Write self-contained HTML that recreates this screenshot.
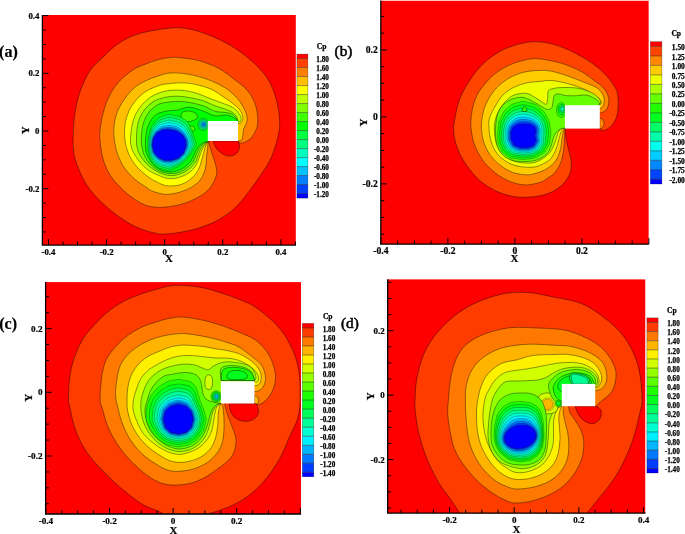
<!DOCTYPE html>
<html><head><meta charset="utf-8"><style>
html,body{margin:0;padding:0;background:#fff;width:685px;height:534px;overflow:hidden}
svg{display:block;will-change:transform}

</style></head><body>
<svg width="685" height="534" viewBox="0 0 685 534" shape-rendering="geometricPrecision">
<clipPath id="clipa"><rect x="42.4" y="14.9" width="253.5" height="230.2"/></clipPath>
<g clip-path="url(#clipa)">
<rect x="42.4" y="14.9" width="253.5" height="230.2" fill="#ff0000"/>
<path d="M73.3 130C73.5 123.58 74.08 118.88 74.9 113.5C75.72 108.12 76.7 102.95 78.2 97.7C79.7 92.45 81.65 86.87 83.9 82C86.15 77.13 88.15 73 91.7 68.5C95.25 64 101.07 58.93 105.2 55C109.33 51.07 112.37 47.9 116.5 44.9C120.63 41.9 125.13 39.15 130 37C134.87 34.85 139.87 33.38 145.7 32C151.53 30.62 159.28 29.4 165 28.7C170.72 28 174.38 27.35 180 27.8C185.62 28.25 191.83 29.3 198.7 31.4C205.57 33.5 214.07 36.85 221.2 40.4C228.33 43.95 235.12 48.02 241.5 52.7C247.88 57.38 254.63 63.25 259.5 68.5C264.37 73.75 267.7 78.2 270.7 84.2C273.7 90.2 276 97.7 277.5 104.5C279 111.3 279.9 118.58 279.7 125C279.5 131.42 277.98 137 276.3 143C274.62 149 272.4 155.38 269.6 161C266.8 166.62 263.07 171.45 259.5 176.7C255.93 181.95 252.33 187.25 248.2 192.5C244.07 197.75 239.57 203.7 234.7 208.2C229.83 212.7 224.62 216.32 219 219.5C213.38 222.68 207 225.25 201 227.3C195 229.35 189 230.67 183 231.8C177 232.93 170.08 233.98 165 234.1C159.92 234.22 157.58 233.82 152.5 232.5C147.42 231.18 140.5 229.12 134.5 226.2C128.5 223.28 122.13 219.12 116.5 215C110.87 210.88 105.58 206.38 100.7 201.5C95.82 196.62 90.95 191.33 87.2 185.7C83.45 180.07 80.45 173.32 78.2 167.7C75.95 162.08 74.52 158.28 73.7 152C72.88 145.72 73.1 136.42 73.3 130Z" fill="#ff4000" stroke="#000" stroke-opacity="0.75" stroke-width="0.55"/>
<path d="M223 131C223 131 208 141 208 141C208 141 208.83 142.92 209.5 145C210.17 147.08 211 150.25 212 153.5C213 156.75 214.75 160.92 215.5 164.5C216.25 168.08 217.42 171.08 216.5 175C215.58 178.92 212.97 184.33 210 188C207.03 191.67 203.2 194.38 198.7 197C194.2 199.62 188.62 202.02 183 203.7C177.38 205.38 170.83 206.72 165 207.1C159.17 207.48 153.08 207.32 148 206C142.92 204.68 139 202.2 134.5 199.2C130 196.2 125.13 192.12 121 188C116.87 183.88 112.7 179.38 109.7 174.5C106.7 169.62 104.62 164.45 103 158.7C101.38 152.95 100.45 145.12 100 140C99.55 134.88 99.8 132.42 100.3 128C100.8 123.58 101.8 118.17 103 113.5C104.2 108.83 105.63 104.32 107.5 100C109.37 95.68 111.58 91.35 114.2 87.6C116.82 83.85 119.82 80.62 123.2 77.5C126.58 74.38 130.75 71.15 134.5 68.9C138.25 66.65 141.95 65.48 145.7 64C149.45 62.52 152.95 61.08 157 60C161.05 58.92 166.17 57.88 170 57.5C173.83 57.12 175.22 57.18 180 57.7C184.78 58.22 192.2 58.8 198.7 60.6C205.2 62.4 213 65.32 219 68.5C225 71.68 230.53 76.62 234.7 79.7C238.87 82.78 241.32 84.45 244 87C246.68 89.55 248.88 92 250.8 95C252.72 98 254.38 101.67 255.5 105C256.62 108.33 257.17 111.67 257.5 115C257.83 118.33 257.85 122.32 257.5 125C257.15 127.68 256.35 129.05 255.4 131.1C254.45 133.15 253.43 135.5 251.8 137.3C250.17 139.1 247.48 140.95 245.6 141.9C243.72 142.85 241.77 143.15 240.5 143C239.23 142.85 238 141 238 141C238 141 223 131 223 131Z" fill="#ff8000" stroke="#000" stroke-opacity="0.75" stroke-width="0.55"/>
<path d="M223 131C223 131 208 141.5 208 141.5C208 141.5 207.93 145 207.7 147.5C207.47 150 206.97 153.13 206.6 156.5C206.23 159.87 206.43 163.95 205.5 167.7C204.57 171.45 203.25 175.8 201 179C198.75 182.2 195.75 184.65 192 186.9C188.25 189.15 183 191.27 178.5 192.5C174 193.73 169.42 194.55 165 194.3C160.58 194.05 155.22 192.23 152 191C148.78 189.77 148.62 188.9 145.7 186.9C142.78 184.9 138.07 182.2 134.5 179C130.93 175.8 127.12 171.83 124.3 167.7C121.48 163.57 119.28 159.07 117.6 154.2C115.92 149.33 114.77 143.37 114.2 138.5C113.63 133.63 113.63 129.55 114.2 125C114.77 120.45 115.72 115.75 117.6 111.2C119.48 106.65 122.68 101.63 125.5 97.7C128.32 93.77 131.13 90.42 134.5 87.6C137.87 84.78 141.95 82.67 145.7 80.8C149.45 78.93 152.95 77.7 157 76.4C161.05 75.1 164.92 73.38 170 73C175.08 72.62 181.17 73.02 187.5 74.1C193.83 75.18 201.83 77.27 208 79.5C214.17 81.73 220.33 85.08 224.5 87.5C228.67 89.92 230.5 91.75 233 94C235.5 96.25 237.53 98.33 239.5 101C241.47 103.67 243.52 107.05 244.8 110C246.08 112.95 247.07 116.22 247.2 118.7C247.33 121.18 246.2 123.18 245.6 124.9C245 126.62 244.03 127.45 243.6 129C243.17 130.55 243.27 132.48 243 134.2C242.73 135.92 242.6 138.18 242 139.3C241.4 140.42 240.07 140.7 239.4 140.9C238.73 141.1 238 140.5 238 140.5C238 140.5 223 131 223 131Z" fill="#ffbf00" stroke="#000" stroke-opacity="0.75" stroke-width="0.55"/>
<path d="M238 123C238 123 223 131 223 131C223 131 208 142 208 142C208 142 207.2 142.22 206.6 143.5C206 144.78 205.15 147.17 204.4 149.7C203.65 152.23 203.05 155.5 202.1 158.7C201.15 161.9 200.38 165.7 198.7 168.9C197.02 172.1 195 175.28 192 177.9C189 180.52 184.87 183.28 180.7 184.6C176.53 185.92 170.95 186.23 167 185.8C163.05 185.37 160.17 183.52 157 182C153.83 180.48 151.38 179.27 148 176.7C144.62 174.13 139.9 170.35 136.7 166.6C133.5 162.85 130.75 158.63 128.8 154.2C126.85 149.77 125.63 144.87 125 140C124.37 135.13 124.35 129.78 125 125C125.65 120.22 127.15 115.33 128.9 111.3C130.65 107.27 132.87 103.98 135.5 100.8C138.13 97.62 141.42 94.5 144.7 92.2C147.98 89.9 151.65 88.37 155.2 87C158.75 85.63 160.62 84.65 166 84C171.38 83.35 180.17 82.32 187.5 83.1C194.83 83.88 203.75 86.22 210 88.7C216.25 91.18 221.13 95.48 225 98C228.87 100.52 230.8 101.9 233.2 103.8C235.6 105.7 237.85 107.43 239.4 109.4C240.95 111.37 241.98 113.7 242.5 115.6C243.02 117.5 242.95 119.5 242.5 120.8C242.05 122.1 240.55 123.03 239.8 123.4C239.05 123.77 238 123 238 123Z" fill="#ffff00" stroke="#000" stroke-opacity="0.75" stroke-width="0.55"/>
<path d="M238 122C238 122 223 131 223 131C223 131 208 142 208 142C208 142 207 142.68 206.2 143.6C205.4 144.52 204.25 145.53 203.2 147.5C202.15 149.47 201.02 152.58 199.9 155.4C198.78 158.22 198.2 161.6 196.5 164.4C194.8 167.2 192.7 170 189.7 172.2C186.7 174.4 182.12 176.55 178.5 177.6C174.88 178.65 171.22 178.83 168 178.5C164.78 178.17 162.53 177.02 159.2 175.6C155.87 174.18 151.37 172.43 148 170C144.63 167.57 141.63 164.38 139 161C136.37 157.62 133.62 153.45 132.2 149.7C130.78 145.95 130.38 143.15 130.5 138.5C130.62 133.85 131.63 126.55 132.9 121.8C134.17 117.05 135.7 113.72 138.1 110C140.5 106.28 143.78 102.35 147.3 99.5C150.82 96.65 155.25 94.43 159.2 92.9C163.15 91.37 166.85 90.7 171 90.3C175.15 89.9 179.72 89.97 184.1 90.5C188.48 91.03 192.98 92.17 197.3 93.5C201.62 94.83 205.88 96.92 210 98.5C214.12 100.08 218.67 101.75 222 103C225.33 104.25 227.75 104.92 230 106C232.25 107.08 234.02 108.25 235.5 109.5C236.98 110.75 237.98 112.22 238.9 113.5C239.82 114.78 240.73 115.92 241 117.2C241.27 118.48 241 120.4 240.5 121.2C240 122 238 122 238 122Z" fill="#bfff00" stroke="#000" stroke-opacity="0.75" stroke-width="0.55"/>
<path d="M237.9 121.4C237.9 121.4 223 131 223 131C223 131 208 141.8 208 141.8C208 141.8 206.37 142.45 205.3 143.4C204.23 144.35 202.72 145.73 201.6 147.5C200.48 149.27 199.62 151.58 198.6 154C197.58 156.42 197.18 159.42 195.5 162C193.82 164.58 191.33 167.42 188.5 169.5C185.67 171.58 181.75 173.5 178.5 174.5C175.25 175.5 172.25 175.83 169 175.5C165.75 175.17 162.17 173.92 159 172.5C155.83 171.08 152.75 169.25 150 167C147.25 164.75 144.58 162 142.5 159C140.42 156 138.5 152.5 137.5 149C136.5 145.5 136.4 142.32 136.5 138C136.6 133.68 136.95 127.55 138.1 123.1C139.25 118.65 140.98 114.8 143.4 111.3C145.82 107.8 149.1 104.4 152.6 102.1C156.1 99.8 160.23 98.48 164.4 97.5C168.57 96.52 173.22 96.15 177.6 96.2C181.98 96.25 186.33 97 190.7 97.8C195.07 98.6 199.75 99.67 203.8 101C207.85 102.33 211.3 104.38 215 105.8C218.7 107.22 223.08 108.38 226 109.5C228.92 110.62 230.75 111.33 232.5 112.5C234.25 113.67 235.6 115.02 236.5 116.5C237.4 117.98 237.9 121.4 237.9 121.4Z" fill="#80ff00" stroke="#000" stroke-opacity="0.75" stroke-width="0.55"/>
<path d="M237.9 121.2C237.9 121.2 223 131 223 131C223 131 208 141.6 208 141.6C208 141.6 205.63 142.17 204.3 143.1C202.97 144.03 201.27 145.47 200 147.2C198.73 148.93 197.78 151.2 196.7 153.5C195.62 155.8 195.03 158.67 193.5 161C191.97 163.33 190 165.58 187.5 167.5C185 169.42 181.58 171.5 178.5 172.5C175.42 173.5 172.17 173.75 169 173.5C165.83 173.25 162.42 172.33 159.5 171C156.58 169.67 153.83 167.67 151.5 165.5C149.17 163.33 147.08 160.92 145.5 158C143.92 155.08 142.67 151.83 142 148C141.33 144.17 141.27 139.15 141.5 135C141.73 130.85 142.2 126.83 143.4 123.1C144.6 119.37 146.3 115.67 148.7 112.6C151.1 109.53 154.52 106.45 157.8 104.7C161.08 102.95 164.67 102.65 168.4 102.1C172.13 101.55 176.48 101.3 180.2 101.4C183.92 101.5 186.77 101.93 190.7 102.7C194.63 103.47 199.75 104.57 203.8 106C207.85 107.43 211.3 110.22 215 111.3C218.7 112.38 223.08 111.97 226 112.5C228.92 113.03 230.83 113.58 232.5 114.5C234.17 115.42 235.1 116.88 236 118C236.9 119.12 237.9 121.2 237.9 121.2Z" fill="#40ff00" stroke="#000" stroke-opacity="0.75" stroke-width="0.55"/>
<path d="M237.8 121C237.8 121 223 131 223 131C223 131 208 141.4 208 141.4C208 141.4 204.82 141.9 203.2 142.8C201.58 143.7 199.7 145.1 198.3 146.8C196.9 148.5 195.93 150.8 194.8 153C193.67 155.2 192.97 157.83 191.5 160C190.03 162.17 188.25 164.25 186 166C183.75 167.75 180.83 169.5 178 170.5C175.17 171.5 172 172.17 169 172C166 171.83 162.67 170.75 160 169.5C157.33 168.25 155 166.58 153 164.5C151 162.42 149.25 159.75 148 157C146.75 154.25 145.83 151.67 145.5 148C145.17 144.33 145.47 138.93 146 135C146.53 131.07 147.17 127.7 148.7 124.4C150.23 121.1 152.37 117.38 155.2 115.2C158.03 113.02 161.97 112.17 165.7 111.3C169.43 110.43 174.97 110.43 177.6 110C180.23 109.57 179.32 109.15 181.5 108.7C183.68 108.25 186.98 106.87 190.7 107.3C194.42 107.73 199.75 109.87 203.8 111.3C207.85 112.73 211.3 115.28 215 115.9C218.7 116.52 223 114.73 226 115C229 115.27 231.33 116.75 233 117.5C234.67 118.25 235.2 118.92 236 119.5C236.8 120.08 237.8 121 237.8 121Z" fill="#00ff00" stroke="#000" stroke-opacity="0.75" stroke-width="0.55"/>
<path d="M182 112.5C183.25 111.33 186.67 110.83 189 111C191.33 111.17 194.67 112.33 196 113.5C197.33 114.67 197.67 116.75 197 118C196.33 119.25 193.83 120.42 192 121C190.17 121.58 187.75 122 186 121.5C184.25 121 182.17 119.5 181.5 118C180.83 116.5 180.75 113.67 182 112.5Z" fill="#40ff00" stroke="#000" stroke-opacity="0.75" stroke-width="0.55"/>
<path d="M190 126C190.67 125.5 192.67 125.92 193.5 126.5C194.33 127.08 195.17 128.75 195 129.5C194.83 130.25 193.42 131 192.5 131C191.58 131 189.92 130.33 189.5 129.5C189.08 128.67 189.33 126.5 190 126Z" fill="#40ff00" stroke="#000" stroke-opacity="0.75" stroke-width="0.55"/>
<path d="M196.24 145C196.05 146.14 195.03 147.29 194.46 148.35C193.9 149.42 193.45 150.44 192.86 151.39C192.26 152.35 191.53 153.21 190.9 154.07C190.26 154.93 189.65 155.75 189.04 156.57C188.43 157.39 187.9 158.24 187.24 159C186.59 159.76 185.86 160.45 185.12 161.12C184.38 161.79 183.58 162.37 182.81 163C182.04 163.63 181.29 164.27 180.48 164.89C179.68 165.51 178.88 166.21 177.99 166.71C177.1 167.22 176.11 167.51 175.14 167.91C174.17 168.32 173.2 168.73 172.18 169.16C171.16 169.59 170.07 170.4 169 170.5C167.93 170.6 166.81 170.01 165.74 169.78C164.66 169.54 163.6 169.35 162.55 169.07C161.5 168.79 160.4 168.58 159.43 168.11C158.46 167.63 157.62 166.86 156.74 166.24C155.85 165.63 154.85 165.16 154.1 164.42C153.35 163.67 152.8 162.67 152.23 161.77C151.66 160.88 151.16 159.96 150.68 159.06C150.2 158.15 149.68 157.28 149.35 156.34C149.02 155.4 148.91 154.36 148.7 153.41C148.49 152.45 148.28 151.54 148.08 150.61C147.88 149.68 147.58 148.76 147.51 147.83C147.44 146.9 147.6 145.94 147.65 145C147.7 144.06 147.74 143.15 147.79 142.21C147.84 141.27 147.83 140.31 147.93 139.35C148.04 138.4 148.2 137.44 148.42 136.47C148.63 135.51 148.93 134.57 149.21 133.57C149.48 132.57 149.76 131.56 150.06 130.46C150.35 129.37 150.49 128.03 151 127C151.51 125.97 152.37 125.21 153.09 124.27C153.81 123.32 154.53 122.32 155.33 121.33C156.14 120.34 156.93 119.06 157.94 118.31C158.96 117.56 160.26 117.32 161.45 116.81C162.64 116.3 163.82 115.68 165.08 115.25C166.34 114.82 167.69 114.24 169 114.21C170.31 114.17 171.64 114.76 172.95 115.03C174.25 115.3 175.53 115.52 176.81 115.84C178.09 116.15 179.44 116.37 180.63 116.93C181.81 117.49 182.82 118.44 183.9 119.18C184.99 119.93 186.23 120.46 187.12 121.39C188 122.32 188.62 123.62 189.23 124.77C189.84 125.92 190.29 127.14 190.79 128.28C191.29 129.42 191.78 130.5 192.21 131.6C192.64 132.7 192.99 133.81 193.38 134.9C193.76 136 194.16 137.06 194.53 138.16C194.9 139.26 195.31 140.36 195.6 141.5C195.88 142.64 196.42 143.86 196.24 145Z" fill="#00ff40" stroke="#000" stroke-opacity="0.6" stroke-width="0.45"/>
<path d="M194.14 145C193.98 146.06 193.16 147.12 192.68 148.12C192.2 149.11 191.78 150.06 191.25 150.96C190.73 151.86 190.1 152.68 189.54 153.51C188.98 154.33 188.45 155.13 187.89 155.9C187.32 156.68 186.76 157.45 186.14 158.15C185.52 158.86 184.84 159.51 184.15 160.15C183.46 160.78 182.73 161.37 182 161.94C181.27 162.52 180.52 163.07 179.75 163.62C178.98 164.16 178.21 164.76 177.37 165.2C176.53 165.64 175.61 165.92 174.7 166.28C173.8 166.64 172.9 167.01 171.94 167.37C170.99 167.73 169.99 168.36 169 168.44C168.01 168.52 166.99 168.05 165.99 167.86C165 167.67 164 167.54 163.03 167.29C162.05 167.04 161.05 166.79 160.15 166.36C159.25 165.93 158.46 165.26 157.62 164.71C156.78 164.17 155.84 163.76 155.12 163.09C154.4 162.42 153.85 161.52 153.29 160.71C152.73 159.9 152.25 159.05 151.77 158.22C151.29 157.39 150.76 156.6 150.42 155.73C150.08 154.85 149.93 153.89 149.71 152.99C149.49 152.09 149.31 151.21 149.12 150.33C148.93 149.44 148.66 148.58 148.58 147.69C148.49 146.8 148.57 145.89 148.6 145C148.63 144.11 148.72 143.23 148.78 142.34C148.84 141.44 148.85 140.54 148.96 139.63C149.07 138.72 149.2 137.8 149.42 136.89C149.63 135.98 149.96 135.11 150.26 134.18C150.56 133.25 150.87 132.33 151.19 131.33C151.51 130.34 151.69 129.12 152.2 128.2C152.71 127.28 153.56 126.62 154.27 125.8C154.97 124.97 155.67 124.1 156.44 123.24C157.21 122.39 157.96 121.28 158.91 120.64C159.86 120.01 161.05 119.83 162.15 119.42C163.24 119 164.32 118.5 165.46 118.15C166.61 117.79 167.82 117.31 169 117.29C170.18 117.27 171.38 117.78 172.55 118.02C173.72 118.26 174.88 118.46 176.04 118.74C177.19 119.02 178.4 119.22 179.48 119.7C180.55 120.18 181.5 120.99 182.49 121.64C183.47 122.29 184.58 122.8 185.41 123.62C186.24 124.43 186.86 125.53 187.47 126.53C188.08 127.53 188.58 128.58 189.08 129.59C189.58 130.61 190.03 131.61 190.45 132.61C190.88 133.62 191.25 134.62 191.63 135.63C192.01 136.63 192.41 137.62 192.75 138.64C193.08 139.66 193.38 140.7 193.62 141.76C193.85 142.82 194.29 143.94 194.14 145Z" fill="#00ff80" stroke="#000" stroke-opacity="0.6" stroke-width="0.45"/>
<path d="M192.25 145C192.13 145.99 191.49 146.98 191.08 147.91C190.67 148.84 190.27 149.73 189.81 150.58C189.35 151.42 188.81 152.21 188.32 153C187.83 153.79 187.37 154.57 186.85 155.3C186.32 156.03 185.74 156.73 185.15 157.39C184.55 158.05 183.92 158.67 183.27 159.27C182.62 159.87 181.97 160.46 181.27 161C180.58 161.53 179.83 162 179.09 162.47C178.34 162.95 177.6 163.45 176.8 163.84C176.01 164.23 175.15 164.49 174.31 164.81C173.46 165.13 172.62 165.46 171.73 165.76C170.85 166.05 169.92 166.52 169 166.59C168.08 166.65 167.14 166.29 166.22 166.14C165.29 165.99 164.36 165.91 163.46 165.69C162.55 165.46 161.64 165.18 160.8 164.79C159.96 164.4 159.21 163.82 158.41 163.34C157.62 162.85 156.73 162.49 156.03 161.9C155.34 161.3 154.8 160.49 154.25 159.75C153.7 159.01 153.23 158.23 152.75 157.47C152.27 156.71 151.74 155.98 151.38 155.17C151.03 154.36 150.84 153.46 150.62 152.61C150.4 151.76 150.24 150.92 150.06 150.07C149.88 149.23 149.64 148.41 149.54 147.56C149.44 146.72 149.43 145.85 149.46 145C149.48 144.15 149.6 143.31 149.67 142.46C149.74 141.6 149.78 140.74 149.88 139.88C149.99 139.01 150.1 138.12 150.32 137.26C150.54 136.4 150.89 135.58 151.21 134.73C151.52 133.87 151.87 133.03 152.21 132.12C152.56 131.21 152.76 130.1 153.28 129.28C153.8 128.46 154.63 127.9 155.32 127.18C156.02 126.46 156.69 125.7 157.43 124.97C158.18 124.23 158.89 123.28 159.78 122.75C160.67 122.21 161.77 122.1 162.77 121.77C163.78 121.43 164.77 121.04 165.81 120.75C166.85 120.47 167.94 120.07 169 120.06C170.06 120.05 171.14 120.49 172.2 120.71C173.25 120.93 174.29 121.11 175.33 121.36C176.38 121.61 177.47 121.78 178.45 122.19C179.43 122.61 180.3 123.28 181.21 123.85C182.11 124.42 183.09 124.91 183.87 125.62C184.65 126.33 185.27 127.26 185.88 128.12C186.49 128.98 187.04 129.87 187.54 130.78C188.04 131.68 188.45 132.61 188.87 133.53C189.29 134.44 189.68 135.36 190.05 136.28C190.43 137.2 190.84 138.11 191.14 139.07C191.44 140.02 191.65 141.01 191.83 141.99C192.02 142.98 192.38 144.01 192.25 145Z" fill="#00ffbf" stroke="#000" stroke-opacity="0.6" stroke-width="0.45"/>
<path d="M190.47 145C190.37 145.92 189.9 146.84 189.57 147.71C189.23 148.58 188.84 149.41 188.44 150.21C188.04 151.01 187.6 151.77 187.17 152.52C186.74 153.28 186.36 154.05 185.86 154.74C185.37 155.43 184.78 156.05 184.21 156.67C183.64 157.29 183.05 157.87 182.44 158.44C181.84 159.01 181.25 159.61 180.59 160.1C179.92 160.59 179.18 160.98 178.46 161.39C177.74 161.8 177.02 162.21 176.27 162.55C175.51 162.89 174.73 163.14 173.94 163.42C173.15 163.7 172.35 164 171.53 164.23C170.71 164.47 169.85 164.79 169 164.83C168.15 164.88 167.29 164.62 166.43 164.51C165.58 164.4 164.7 164.38 163.86 164.18C163.03 163.98 162.2 163.67 161.42 163.31C160.63 162.95 159.92 162.46 159.16 162.04C158.41 161.61 157.57 161.3 156.9 160.77C156.23 160.24 155.69 159.51 155.16 158.84C154.62 158.17 154.16 157.46 153.68 156.76C153.2 156.06 152.65 155.4 152.29 154.65C151.92 153.9 151.7 153.06 151.48 152.26C151.25 151.46 151.12 150.64 150.95 149.84C150.78 149.03 150.56 148.25 150.45 147.44C150.33 146.64 150.25 145.81 150.26 145C150.27 144.19 150.43 143.38 150.51 142.57C150.59 141.75 150.65 140.94 150.76 140.11C150.87 139.29 150.94 138.42 151.17 137.61C151.39 136.8 151.77 136.04 152.1 135.24C152.44 134.45 152.81 133.68 153.18 132.86C153.54 132.03 153.78 131.03 154.3 130.3C154.82 129.57 155.64 129.1 156.32 128.48C157 127.86 157.66 127.22 158.37 126.59C159.09 125.97 159.77 125.16 160.6 124.73C161.44 124.3 162.45 124.24 163.37 123.98C164.29 123.73 165.19 123.43 166.13 123.21C167.07 123 168.04 122.67 169 122.68C169.96 122.68 170.92 123.06 171.86 123.25C172.81 123.45 173.74 123.62 174.67 123.83C175.61 124.05 176.58 124.19 177.47 124.55C178.36 124.9 179.18 125.45 180 125.94C180.83 126.44 181.69 126.89 182.42 127.51C183.15 128.12 183.78 128.88 184.39 129.61C185 130.35 185.58 131.1 186.08 131.89C186.58 132.69 186.96 133.56 187.38 134.39C187.79 135.22 188.19 136.05 188.57 136.89C188.94 137.74 189.36 138.59 189.63 139.47C189.89 140.36 190.01 141.29 190.15 142.22C190.29 143.14 190.57 144.08 190.47 145Z" fill="#00ffff" stroke="#000" stroke-opacity="0.6" stroke-width="0.45"/>
<path d="M188.9 145C188.83 145.85 188.51 146.72 188.23 147.53C187.95 148.35 187.58 149.12 187.24 149.89C186.89 150.65 186.52 151.38 186.15 152.1C185.78 152.83 185.46 153.58 185 154.24C184.54 154.89 183.93 155.46 183.38 156.04C182.84 156.62 182.28 157.17 181.71 157.71C181.14 158.26 180.61 158.86 179.98 159.31C179.35 159.77 178.61 160.09 177.91 160.44C177.22 160.79 176.52 161.12 175.8 161.41C175.08 161.71 174.35 161.95 173.61 162.2C172.87 162.44 172.12 162.71 171.36 162.89C170.59 163.07 169.79 163.26 169 163.29C168.21 163.32 167.42 163.15 166.62 163.07C165.82 163 165 163.02 164.22 162.84C163.44 162.66 162.69 162.33 161.96 162C161.23 161.68 160.54 161.26 159.82 160.89C159.11 160.52 158.31 160.25 157.66 159.78C157.02 159.3 156.48 158.65 155.96 158.04C155.43 157.44 154.98 156.77 154.5 156.13C154.02 155.49 153.46 154.88 153.09 154.19C152.71 153.49 152.46 152.7 152.23 151.94C152.01 151.18 151.9 150.39 151.73 149.63C151.57 148.86 151.38 148.11 151.25 147.34C151.12 146.57 150.97 145.78 150.97 145C150.98 144.22 151.16 143.44 151.25 142.66C151.34 141.88 151.42 141.11 151.53 140.32C151.64 139.53 151.69 138.69 151.91 137.92C152.14 137.15 152.54 136.44 152.89 135.7C153.24 134.96 153.64 134.26 154.03 133.51C154.41 132.76 154.67 131.85 155.2 131.2C155.73 130.55 156.54 130.16 157.2 129.63C157.87 129.1 158.51 128.55 159.2 128.03C159.89 127.5 160.55 126.83 161.33 126.48C162.11 126.13 163.04 126.12 163.89 125.94C164.74 125.76 165.57 125.54 166.42 125.38C167.27 125.23 168.14 124.97 169 124.99C169.86 125.01 170.72 125.32 171.57 125.5C172.42 125.67 173.25 125.83 174.09 126.01C174.93 126.2 175.8 126.33 176.61 126.62C177.42 126.92 178.18 127.36 178.94 127.79C179.69 128.21 180.46 128.65 181.14 129.17C181.83 129.7 182.46 130.32 183.06 130.94C183.67 131.55 184.3 132.18 184.8 132.88C185.3 133.58 185.65 134.39 186.06 135.15C186.47 135.91 186.89 136.66 187.26 137.44C187.63 138.22 188.06 139 188.29 139.83C188.52 140.66 188.56 141.55 188.66 142.41C188.76 143.27 188.97 144.15 188.9 145Z" fill="#00bfff" stroke="#000" stroke-opacity="0.6" stroke-width="0.45"/>
<path d="M187.54 145C187.49 145.8 187.3 146.61 187.07 147.38C186.85 148.15 186.5 148.88 186.19 149.61C185.89 150.33 185.59 151.04 185.27 151.74C184.94 152.44 184.68 153.18 184.25 153.8C183.81 154.43 183.2 154.94 182.67 155.49C182.14 156.03 181.61 156.55 181.08 157.08C180.54 157.6 180.06 158.2 179.46 158.63C178.85 159.05 178.11 159.31 177.44 159.61C176.76 159.91 176.08 160.18 175.39 160.43C174.71 160.68 174.02 160.92 173.32 161.13C172.62 161.35 171.92 161.59 171.2 161.72C170.48 161.86 169.74 161.93 169 161.95C168.26 161.97 167.53 161.87 166.78 161.83C166.04 161.78 165.26 161.84 164.53 161.68C163.8 161.52 163.12 161.17 162.43 160.87C161.74 160.57 161.08 160.22 160.4 159.9C159.71 159.57 158.95 159.34 158.32 158.91C157.7 158.49 157.17 157.91 156.65 157.35C156.13 156.8 155.68 156.18 155.21 155.58C154.73 154.99 154.17 154.44 153.78 153.79C153.39 153.14 153.12 152.4 152.89 151.67C152.66 150.95 152.57 150.18 152.41 149.45C152.25 148.71 152.08 147.99 151.94 147.25C151.81 146.5 151.6 145.75 151.59 145C151.58 144.25 151.79 143.5 151.9 142.75C152 142 152.09 141.26 152.2 140.5C152.31 139.74 152.33 138.93 152.56 138.19C152.79 137.46 153.21 136.78 153.58 136.1C153.94 135.41 154.36 134.76 154.76 134.08C155.16 133.39 155.45 132.56 155.98 131.98C156.51 131.4 157.31 131.08 157.97 130.62C158.63 130.17 159.25 129.71 159.92 129.27C160.58 128.83 161.22 128.27 161.96 128C162.7 127.73 163.56 127.76 164.35 127.63C165.13 127.51 165.89 127.37 166.67 127.27C167.44 127.16 168.23 126.96 169 126.99C169.77 127.02 170.55 127.29 171.31 127.44C172.08 127.59 172.82 127.74 173.58 127.9C174.34 128.07 175.13 128.17 175.87 128.42C176.61 128.67 177.32 129.02 178.02 129.38C178.71 129.75 179.39 130.17 180.04 130.62C180.69 131.07 181.31 131.56 181.92 132.08C182.53 132.6 183.18 133.11 183.68 133.73C184.18 134.35 184.51 135.11 184.92 135.81C185.32 136.51 185.75 137.19 186.12 137.91C186.49 138.63 186.92 139.36 187.13 140.14C187.34 140.92 187.3 141.77 187.37 142.58C187.44 143.39 187.59 144.2 187.54 145Z" fill="#0080ff" stroke="#000" stroke-opacity="0.6" stroke-width="0.45"/>
<path d="M186.49 145C186.45 145.76 186.37 146.53 186.18 147.26C186 147.99 185.66 148.69 185.39 149.39C185.13 150.09 184.88 150.78 184.59 151.46C184.3 152.14 184.08 152.87 183.67 153.47C183.26 154.07 182.63 154.54 182.12 155.06C181.6 155.59 181.1 156.09 180.59 156.59C180.08 157.1 179.64 157.7 179.05 158.1C178.46 158.5 177.73 158.71 177.07 158.98C176.41 159.24 175.74 159.45 175.08 159.67C174.42 159.9 173.77 160.12 173.1 160.32C172.44 160.51 171.77 160.73 171.08 160.83C170.4 160.93 169.7 160.91 169 160.92C168.3 160.93 167.62 160.89 166.91 160.87C166.21 160.85 165.45 160.94 164.77 160.8C164.08 160.65 163.44 160.27 162.79 160C162.13 159.72 161.5 159.43 160.84 159.13C160.18 158.84 159.44 158.64 158.83 158.25C158.22 157.86 157.69 157.33 157.18 156.82C156.67 156.31 156.23 155.72 155.75 155.17C155.27 154.61 154.71 154.1 154.31 153.48C153.92 152.86 153.62 152.16 153.39 151.46C153.16 150.77 153.08 150.02 152.93 149.31C152.78 148.59 152.62 147.89 152.48 147.17C152.34 146.46 152.08 145.73 152.07 145C152.05 144.27 152.28 143.54 152.39 142.81C152.5 142.09 152.6 141.37 152.71 140.64C152.82 139.9 152.83 139.11 153.06 138.4C153.3 137.69 153.73 137.05 154.1 136.4C154.48 135.75 154.92 135.15 155.33 134.51C155.74 133.88 156.04 133.1 156.58 132.58C157.12 132.06 157.91 131.78 158.56 131.39C159.21 131 159.82 130.6 160.47 130.23C161.12 129.86 161.74 129.38 162.44 129.17C163.15 128.95 163.96 129.01 164.7 128.94C165.43 128.86 166.14 128.78 166.86 128.71C167.57 128.65 168.29 128.49 169 128.53C169.71 128.56 170.42 128.8 171.12 128.93C171.81 129.07 172.5 129.21 173.19 129.36C173.89 129.5 174.61 129.6 175.29 129.81C175.98 130.02 176.66 130.29 177.31 130.61C177.95 130.93 178.56 131.34 179.18 131.73C179.8 132.12 180.43 132.52 181.04 132.96C181.65 133.41 182.33 133.83 182.83 134.39C183.33 134.95 183.63 135.67 184.04 136.32C184.44 136.96 184.88 137.59 185.25 138.27C185.61 138.95 186.05 139.64 186.24 140.38C186.43 141.12 186.34 141.94 186.38 142.71C186.42 143.48 186.52 144.24 186.49 145Z" fill="#0040ff" stroke="#000" stroke-opacity="0.6" stroke-width="0.45"/>
<path d="M185.75 145C185.73 145.73 185.71 146.47 185.56 147.18C185.41 147.89 185.07 148.56 184.83 149.24C184.59 149.92 184.38 150.6 184.12 151.26C183.85 151.93 183.66 152.65 183.26 153.24C182.87 153.82 182.23 154.27 181.73 154.77C181.23 155.27 180.74 155.76 180.25 156.25C179.76 156.74 179.34 157.35 178.77 157.73C178.2 158.11 177.46 158.3 176.81 158.53C176.16 158.77 175.5 158.94 174.86 159.14C174.22 159.35 173.59 159.57 172.95 159.74C172.31 159.92 171.66 160.12 171 160.2C170.34 160.28 169.67 160.2 169 160.2C168.33 160.2 167.68 160.2 167 160.2C166.32 160.2 165.59 160.31 164.93 160.17C164.27 160.04 163.67 159.65 163.04 159.39C162.41 159.12 161.79 158.87 161.15 158.6C160.51 158.33 159.79 158.14 159.19 157.79C158.59 157.43 158.06 156.93 157.55 156.45C157.04 155.96 156.61 155.4 156.13 154.87C155.66 154.34 155.08 153.86 154.69 153.26C154.29 152.67 153.98 151.99 153.75 151.32C153.52 150.64 153.45 149.91 153.3 149.21C153.15 148.51 153 147.83 152.85 147.13C152.7 146.42 152.42 145.71 152.4 145C152.38 144.29 152.62 143.57 152.74 142.86C152.85 142.15 152.96 141.45 153.07 140.73C153.18 140.01 153.18 139.23 153.41 138.54C153.65 137.86 154.09 137.23 154.47 136.61C154.86 135.99 155.31 135.42 155.73 134.82C156.15 134.21 156.46 133.48 157 133C157.54 132.52 158.33 132.28 158.97 131.93C159.61 131.58 160.22 131.22 160.86 130.9C161.49 130.57 162.1 130.16 162.78 129.98C163.46 129.81 164.24 129.89 164.94 129.85C165.64 129.81 166.31 129.77 166.99 129.73C167.67 129.69 168.34 129.56 169 129.61C169.66 129.65 170.32 129.85 170.98 129.98C171.63 130.11 172.27 130.24 172.92 130.37C173.57 130.51 174.24 130.59 174.89 130.78C175.54 130.96 176.19 131.18 176.81 131.47C177.43 131.76 177.98 132.16 178.59 132.51C179.19 132.86 179.81 133.19 180.42 133.58C181.03 133.97 181.73 134.33 182.23 134.85C182.73 135.37 183.02 136.06 183.42 136.67C183.82 137.29 184.27 137.88 184.63 138.52C185 139.17 185.44 139.83 185.62 140.55C185.79 141.26 185.66 142.06 185.69 142.8C185.71 143.55 185.77 144.27 185.75 145Z" fill="#0000ff" stroke="#000" stroke-opacity="0.6" stroke-width="0.45"/>
<ellipse cx="203.2" cy="124.5" rx="5.6" ry="6.2" fill="#00ff40" stroke="#000" stroke-opacity="0.6" stroke-width="0.45"/>
<ellipse cx="203.4" cy="124.5" rx="4.4" ry="4.8" fill="#00ff80" stroke="#000" stroke-opacity="0.6" stroke-width="0.45"/>
<ellipse cx="203.5" cy="124.5" rx="3.4" ry="3.6" fill="#00ffbf" stroke="#000" stroke-opacity="0.6" stroke-width="0.45"/>
<ellipse cx="203.6" cy="124.5" rx="2.4" ry="2.6" fill="#00bfff" stroke="#000" stroke-opacity="0.6" stroke-width="0.45"/>
<ellipse cx="203.6" cy="124.5" rx="1.4" ry="1.5" fill="#0080ff" stroke="#000" stroke-opacity="0.6" stroke-width="0.45"/>
<path d="M213 141C213 141 214.25 145.08 215.5 147C216.75 148.92 218.58 151.03 220.5 152.5C222.42 153.97 224.92 155.3 227 155.8C229.08 156.3 231.25 156.05 233 155.5C234.75 154.95 236.42 153.83 237.5 152.5C238.58 151.17 239.25 149.08 239.5 147.5C239.75 145.92 239.25 144.08 239 143C238.75 141.92 238 141 238 141C238 141 213 141 213 141Z" fill="#ff0000" stroke="#000" stroke-opacity="0.75" stroke-width="0.55"/>
<rect x="207.8" y="121" width="30.2" height="20" fill="#fff"/>
</g>
<path d="M42.4 14.9V245.1H295.9" fill="none" stroke="#000" stroke-width="1.3"/>
<path d="M48.5 245.1V239.1M63.02 245.1V241.6M42.4 231.98H45.9M77.55 245.1V241.6M42.4 217.55H45.9M92.07 245.1V241.6M42.4 203.12H45.9M106.6 245.1V239.1M42.4 188.7H48.4M121.12 245.1V241.6M42.4 174.28H45.9M135.65 245.1V241.6M42.4 159.85H45.9M150.17 245.1V241.6M42.4 145.43H45.9M164.7 245.1V239.1M42.4 131H48.4M179.22 245.1V241.6M42.4 116.58H45.9M193.75 245.1V241.6M42.4 102.15H45.9M208.28 245.1V241.6M42.4 87.72H45.9M222.8 245.1V239.1M42.4 73.3H48.4M237.32 245.1V241.6M42.4 58.88H45.9M251.85 245.1V241.6M42.4 44.45H45.9M266.38 245.1V241.6M42.4 30.02H45.9M280.9 245.1V239.1M42.4 15.6H48.4M295.42 245.1V241.6" fill="none" stroke="#000" stroke-width="1"/>
<g font-family='"Liberation Serif", serif' font-weight="bold" fill="#000" stroke="#000" stroke-width="0.2">
<text x="48.5" y="254.6" text-anchor="middle" font-size="8.8">-0.4</text>
<text x="106.6" y="254.6" text-anchor="middle" font-size="8.8">-0.2</text>
<text x="39.4" y="191.7" text-anchor="end" font-size="8.8">-0.2</text>
<text x="164.7" y="254.6" text-anchor="middle" font-size="8.8">0</text>
<text x="39.4" y="134" text-anchor="end" font-size="8.8">0</text>
<text x="222.8" y="254.6" text-anchor="middle" font-size="8.8">0.2</text>
<text x="39.4" y="76.3" text-anchor="end" font-size="8.8">0.2</text>
<text x="280.9" y="254.6" text-anchor="middle" font-size="8.8">0.4</text>
<text x="39.4" y="18.6" text-anchor="end" font-size="8.8">0.4</text>
<text x="169" y="261.7" text-anchor="middle" font-size="11">X</text>
<text transform="translate(28.8 130.2) rotate(-90)" text-anchor="middle" font-size="11">Y</text>
<text x="-0.9" y="56.8" font-size="16" font-weight="bold">(a)</text>
</g>
<rect x="296.9" y="54.1" width="11" height="4.5" fill="#ff0000"/>
<rect x="296.9" y="58.6" width="11" height="9" fill="#ff4000"/>
<rect x="296.9" y="67.6" width="11" height="9" fill="#ff8000"/>
<rect x="296.9" y="76.6" width="11" height="9" fill="#ffbf00"/>
<rect x="296.9" y="85.6" width="11" height="9" fill="#ffff00"/>
<rect x="296.9" y="94.6" width="11" height="9" fill="#bfff00"/>
<rect x="296.9" y="103.6" width="11" height="9" fill="#80ff00"/>
<rect x="296.9" y="112.6" width="11" height="9" fill="#40ff00"/>
<rect x="296.9" y="121.6" width="11" height="9" fill="#00ff00"/>
<rect x="296.9" y="130.6" width="11" height="9" fill="#00ff40"/>
<rect x="296.9" y="139.6" width="11" height="9" fill="#00ff80"/>
<rect x="296.9" y="148.6" width="11" height="9" fill="#00ffbf"/>
<rect x="296.9" y="157.6" width="11" height="9" fill="#00ffff"/>
<rect x="296.9" y="166.6" width="11" height="9" fill="#00bfff"/>
<rect x="296.9" y="175.6" width="11" height="9" fill="#0080ff"/>
<rect x="296.9" y="184.6" width="11" height="9" fill="#0040ff"/>
<rect x="296.9" y="193.6" width="11" height="4.5" fill="#0000ff"/>
<path d="M296.9 58.6H307.9M296.9 67.6H307.9M296.9 76.6H307.9M296.9 85.6H307.9M296.9 94.6H307.9M296.9 103.6H307.9M296.9 112.6H307.9M296.9 121.6H307.9M296.9 130.6H307.9M296.9 139.6H307.9M296.9 148.6H307.9M296.9 157.6H307.9M296.9 166.6H307.9M296.9 175.6H307.9M296.9 184.6H307.9M296.9 193.6H307.9" stroke="#000" stroke-opacity="0.7" stroke-width="0.6"/>
<rect x="296.9" y="54.1" width="11" height="144" fill="none" stroke="#000" stroke-opacity="0.5" stroke-width="0.5"/>
<g font-family='"Liberation Serif", serif' font-weight="bold" fill="#000" stroke="#000" stroke-width="0.25" font-size="7.2">
<text x="328.9" y="62.2" text-anchor="end">1.80</text>
<text x="328.9" y="71.2" text-anchor="end">1.60</text>
<text x="328.9" y="80.2" text-anchor="end">1.40</text>
<text x="328.9" y="89.2" text-anchor="end">1.20</text>
<text x="328.9" y="98.2" text-anchor="end">1.00</text>
<text x="328.9" y="107.2" text-anchor="end">0.80</text>
<text x="328.9" y="116.2" text-anchor="end">0.60</text>
<text x="328.9" y="125.2" text-anchor="end">0.40</text>
<text x="328.9" y="134.2" text-anchor="end">0.20</text>
<text x="328.9" y="143.2" text-anchor="end">0.00</text>
<text x="328.9" y="152.2" text-anchor="end">-0.20</text>
<text x="328.9" y="161.2" text-anchor="end">-0.40</text>
<text x="328.9" y="170.2" text-anchor="end">-0.60</text>
<text x="328.9" y="179.2" text-anchor="end">-0.80</text>
<text x="328.9" y="188.2" text-anchor="end">-1.00</text>
<text x="328.9" y="197.2" text-anchor="end">-1.20</text>
<text x="316.7" y="49.3" font-size="7.6">Cp</text>
</g>
<clipPath id="clipb"><rect x="380.8" y="0.5" width="268" height="243.7"/></clipPath>
<g clip-path="url(#clipb)">
<rect x="380.8" y="0.5" width="268" height="243.7" fill="#ff0000"/>
<path d="M582 117C582 117 599.9 128.5 599.9 128.5C599.9 128.5 600.2 130.08 601.2 130.3C602.2 130.52 604.18 130.58 605.9 129.8C607.62 129.02 609.78 127.55 611.5 125.6C613.22 123.65 615.1 120.92 616.2 118.1C617.3 115.28 617.78 111.82 618.1 108.7C618.42 105.58 618.37 102.47 618.1 99.4C617.83 96.33 618 93.73 616.5 90.3C615 86.87 612.3 82.67 609.1 78.8C605.9 74.93 601.78 70.73 597.3 67.1C592.82 63.47 587.53 60.1 582.2 57C576.87 53.9 570.92 50.82 565.3 48.5C559.68 46.18 553.55 44.22 548.5 43.1C543.45 41.98 538.78 41.88 535 41.8C531.22 41.72 529.57 41.9 525.8 42.6C522.03 43.3 516.88 44.45 512.4 46C507.92 47.55 503.12 49.52 498.9 51.9C494.68 54.28 490.75 57.22 487.1 60.3C483.45 63.38 480.08 66.75 477 70.4C473.92 74.05 471.13 78.27 468.6 82.2C466.07 86.13 463.63 90.07 461.8 94C459.97 97.93 458.73 101.8 457.6 105.8C456.47 109.8 455.67 114.47 455 118C454.33 121.53 453.72 123.85 453.6 127C453.48 130.15 453.63 133.28 454.3 136.9C454.97 140.52 456.07 144.77 457.6 148.7C459.13 152.63 461.1 156.57 463.5 160.5C465.9 164.43 468.9 168.65 472 172.3C475.1 175.95 478.18 179.32 482.1 182.4C486.02 185.48 491.02 188.62 495.5 190.8C499.98 192.98 504.5 194.42 509 195.5C513.5 196.58 517.33 197.25 522.5 197.3C527.67 197.35 534.97 196.77 540 195.8C545.03 194.83 548.95 193.37 552.7 191.5C556.45 189.63 559.72 187.4 562.5 184.6C565.28 181.8 567.92 177.98 569.4 174.7C570.88 171.42 571.23 167.85 571.4 164.9C571.57 161.95 571.05 160.28 570.4 157C569.75 153.72 568.32 148.8 567.5 145.2C566.68 141.6 565.93 138.18 565.5 135.4C565.07 132.62 564.9 128.5 564.9 128.5C564.9 128.5 582 117 582 117Z" fill="#ff4400" stroke="#000" stroke-opacity="0.75" stroke-width="0.55"/>
<path d="M582 117C582 117 599.8 113 599.8 113C599.8 113 601.47 112.8 602.5 112.3C603.53 111.8 605.03 111.13 606 110C606.97 108.87 607.83 107.33 608.3 105.5C608.77 103.67 609.1 101.25 608.8 99C608.5 96.75 607.8 94.25 606.5 92C605.2 89.75 603.08 87.42 601 85.5C598.92 83.58 597.13 82.73 594 80.5C590.87 78.27 586.98 74.77 582.2 72.1C577.42 69.43 570.92 66.47 565.3 64.5C559.68 62.53 553.55 61.28 548.5 60.3C543.45 59.32 539.05 58.6 535 58.6C530.95 58.6 528.25 59.32 524.2 60.3C520.15 61.28 515.2 62.53 510.7 64.5C506.2 66.47 501.13 69.28 497.2 72.1C493.27 74.92 490.18 78.03 487.1 81.4C484.02 84.77 480.95 88.52 478.7 92.3C476.45 96.08 474.87 99.82 473.6 104.1C472.33 108.38 471.52 113.93 471.1 118C470.68 122.07 470.68 124.5 471.1 128.5C471.52 132.5 472.33 137.8 473.6 142C474.87 146.2 476.45 149.78 478.7 153.7C480.95 157.62 483.73 161.85 487.1 165.5C490.47 169.15 494.68 172.78 498.9 175.6C503.12 178.42 507.92 180.85 512.4 182.4C516.88 183.95 521.2 184.9 525.8 184.9C530.4 184.9 536.47 183.47 540 182.4C543.53 181.33 544.55 180.1 547 178.5C549.45 176.9 552.43 175.4 554.7 172.8C556.97 170.2 559.13 166.52 560.6 162.9C562.07 159.28 562.85 155.03 563.5 151.1C564.15 147.17 564.27 142.98 564.5 139.3C564.73 135.62 564.9 129 564.9 129C564.9 129 582 117 582 117Z" fill="#ff8800" stroke="#000" stroke-opacity="0.75" stroke-width="0.55"/>
<path d="M599.8 118C599.8 118 602.4 119.05 603.1 120C603.8 120.95 604.08 122.45 604 123.7C603.92 124.95 603.3 126.63 602.6 127.5C601.9 128.37 599.8 128.9 599.8 128.9C599.8 128.9 599.8 118 599.8 118Z" fill="#ff8800" stroke="#000" stroke-opacity="0.75" stroke-width="0.55"/>
<path d="M582 117C582 117 599.8 108.5 599.8 108.5C599.8 108.5 601.3 108.42 602 107.5C602.7 106.58 603.7 104.75 604 103C604.3 101.25 604.47 99.08 603.8 97C603.13 94.92 601.63 92.28 600 90.5C598.37 88.72 596.7 87.68 594 86.3C591.3 84.92 588.02 83.87 583.8 82.2C579.58 80.53 574.03 78.12 568.7 76.3C563.37 74.48 556.58 72.28 551.8 71.3C547.02 70.32 544.6 70.27 540 70.4C535.4 70.53 529.08 70.97 524.2 72.1C519.32 73.23 514.92 74.95 510.7 77.2C506.48 79.45 502.27 82.52 498.9 85.6C495.53 88.68 492.88 92.05 490.5 95.7C488.12 99.35 486.02 103.62 484.6 107.5C483.18 111.38 482.52 115.5 482 119C481.48 122.5 481.22 124.67 481.5 128.5C481.78 132.33 482.2 137.52 483.7 142C485.2 146.48 487.68 151.48 490.5 155.4C493.32 159.32 496.95 162.68 500.6 165.5C504.25 168.32 508.2 170.75 512.4 172.3C516.6 173.85 522.03 174.6 525.8 174.8C529.57 175 531.5 174.5 535 173.5C538.5 172.5 543.38 170.88 546.8 168.8C550.22 166.72 553.3 163.95 555.5 161C557.7 158.05 558.95 154.6 560 151.1C561.05 147.6 561.27 143.18 561.8 140C562.33 136.82 562.68 133.92 563.2 132C563.72 130.08 564.9 128.5 564.9 128.5C564.9 128.5 582 117 582 117Z" fill="#ffcc00" stroke="#000" stroke-opacity="0.75" stroke-width="0.55"/>
<path d="M582 117C582 117 599.8 105 599.8 105C599.8 105 600.83 104.25 601 103.5C601.17 102.75 601.47 101.58 600.8 100.5C600.13 99.42 598.8 98.33 597 97C595.2 95.67 592.2 93.83 590 92.5C587.8 91.17 587.35 90.43 583.8 89C580.25 87.57 574.03 85.32 568.7 83.9C563.37 82.48 556.58 80.92 551.8 80.5C547.02 80.08 544.33 80.97 540 81.4C535.67 81.83 530.4 81.98 525.8 83.1C521.2 84.22 516.32 86 512.4 88.1C508.48 90.2 505.12 92.75 502.3 95.7C499.48 98.65 497.63 102.08 495.5 105.8C493.37 109.52 490.58 114.22 489.5 118C488.42 121.78 488.7 124.5 489 128.5C489.3 132.5 489.93 137.8 491.3 142C492.67 146.2 494.53 150.33 497.2 153.7C499.87 157.07 503.65 160.08 507.3 162.2C510.95 164.32 514.88 165.57 519.1 166.4C523.32 167.23 528.97 167.45 532.6 167.2C536.23 166.95 537.92 166.27 540.9 164.9C543.88 163.53 547.98 161.62 550.5 159C553.02 156.38 554.62 152.45 556 149.2C557.38 145.95 557.88 142.53 558.8 139.5C559.72 136.47 560.48 132.87 561.5 131C562.52 129.13 564.9 128.3 564.9 128.3C564.9 128.3 582 117 582 117Z" fill="#eeff00" stroke="#000" stroke-opacity="0.75" stroke-width="0.55"/>
<path d="M582 117C582 117 599.8 104.5 599.8 104.5C599.8 104.5 600.88 102.75 600.5 101.5C600.12 100.25 599.15 98.53 597.5 97C595.85 95.47 594 93.78 590.6 92.3C587.2 90.82 582.15 88.88 577.1 88.1C572.05 87.32 564.52 87.47 560.3 87.6C556.08 87.73 553.83 88.3 551.8 88.9C549.77 89.5 548.8 89.57 548.1 91.2C547.4 92.83 547.92 96.52 547.6 98.7C547.28 100.88 547.22 103.83 546.2 104.3C545.18 104.77 543.53 102.73 541.5 101.5C539.47 100.27 536.33 98.22 534 96.9C531.67 95.58 529.83 94.15 527.5 93.6C525.17 93.05 522.58 93.2 520 93.6C517.42 94 514.5 94.6 512 96C509.5 97.4 507.08 99.75 505 102C502.92 104.25 501.08 106.67 499.5 109.5C497.92 112.33 496.37 115.55 495.5 119C494.63 122.45 494.15 126.1 494.3 130.2C494.45 134.3 495.07 139.68 496.4 143.6C497.73 147.52 499.63 150.88 502.3 153.7C504.97 156.52 508.75 158.95 512.4 160.5C516.05 162.05 520.27 162.75 524.2 163C528.13 163.25 532.12 163.32 536 162C539.88 160.68 544.67 157.57 547.5 155.1C550.33 152.63 551.58 149.83 553 147.2C554.42 144.57 554.92 142.17 556 139.3C557.08 136.43 558.02 131.87 559.5 130C560.98 128.13 564.9 128.1 564.9 128.1C564.9 128.1 582 117 582 117Z" fill="#aaff00" stroke="#000" stroke-opacity="0.75" stroke-width="0.55"/>
<path d="M582 117C582 117 599.8 104 599.8 104C599.8 104 598.8 101.67 597.5 100.5C596.2 99.33 594 97.92 592 97C590 96.08 588.33 95.2 585.5 95C582.67 94.8 578.42 95.72 575 95.8C571.58 95.88 567.62 95.8 565 95.5C562.38 95.2 561.03 94.08 559.3 94C557.57 93.92 555.62 93.9 554.6 95C553.58 96.1 553.67 98.52 553.2 100.6C552.73 102.68 552.8 106.02 551.8 107.5C550.8 108.98 549.38 109.95 547.2 109.5C545.02 109.05 541.67 106.45 538.7 104.8C535.73 103.15 532.35 100.85 529.4 99.6C526.45 98.35 524.07 97.32 521 97.3C517.93 97.28 514 98.22 511 99.5C508 100.78 505.17 102.75 503 105C500.83 107.25 499.2 109.83 498 113C496.8 116.17 496.18 120 495.8 124C495.42 128 495.33 133 495.7 137C496.07 141 496.62 144.83 498 148C499.38 151.17 501.5 153.92 504 156C506.5 158.08 509.67 159.57 513 160.5C516.33 161.43 520.33 161.6 524 161.6C527.67 161.6 531.75 161.35 535 160.5C538.25 159.65 541.17 158.08 543.5 156.5C545.83 154.92 547.58 153.25 549 151C550.42 148.75 551.12 145.58 552 143C552.88 140.42 553.13 137.7 554.3 135.5C555.47 133.3 557.23 131.05 559 129.8C560.77 128.55 564.9 128 564.9 128C564.9 128 582 117 582 117Z" fill="#66ff00" stroke="#000" stroke-opacity="0.75" stroke-width="0.55"/>
<path d="M550.66 135.5C550.55 136.69 550.34 137.84 550.18 139.01C550.02 140.18 549.99 141.39 549.7 142.52C549.41 143.66 548.94 144.77 548.43 145.82C547.92 146.88 547.24 147.85 546.64 148.86C546.05 149.87 545.63 151.03 544.86 151.89C544.09 152.75 542.98 153.36 542.02 154.02C541.05 154.67 540.05 155.22 539.08 155.81C538.12 156.4 537.24 157.1 536.23 157.55C535.22 158 534.12 158.3 533.04 158.53C531.96 158.76 530.84 158.79 529.77 158.91C528.7 159.03 527.68 159.15 526.63 159.28C525.58 159.4 524.55 159.63 523.5 159.64C522.45 159.65 521.41 159.47 520.36 159.35C519.31 159.24 518.28 159.08 517.22 158.94C516.15 158.8 515.09 158.67 513.97 158.52C512.84 158.37 511.53 158.45 510.47 158.06C509.41 157.68 508.55 156.86 507.61 156.21C506.67 155.55 505.79 154.84 504.86 154.14C503.92 153.44 502.72 152.9 502 152C501.28 151.1 501.03 149.82 500.55 148.75C500.08 147.68 499.58 146.65 499.15 145.59C498.72 144.52 498.19 143.46 497.97 142.34C497.74 141.22 497.85 140.02 497.79 138.88C497.74 137.74 497.66 136.63 497.62 135.5C497.59 134.37 497.54 133.23 497.61 132.09C497.68 130.95 497.9 129.84 498.04 128.68C498.19 127.52 498.33 126.36 498.48 125.14C498.64 123.91 498.61 122.54 498.96 121.33C499.3 120.12 499.99 119.06 500.55 117.89C501.12 116.73 501.69 115.54 502.33 114.33C502.98 113.12 503.55 111.71 504.42 110.63C505.29 109.56 506.48 108.83 507.56 107.89C508.63 106.95 509.65 105.76 510.86 104.99C512.08 104.22 513.49 103.74 514.86 103.27C516.24 102.8 517.68 102.51 519.11 102.19C520.55 101.86 522.04 101.29 523.5 101.32C524.96 101.34 526.43 102 527.87 102.34C529.3 102.67 530.74 102.89 532.12 103.33C533.5 103.77 534.92 104.22 536.15 104.97C537.38 105.71 538.41 106.87 539.5 107.79C540.59 108.71 541.72 109.5 542.7 110.48C543.67 111.46 544.59 112.52 545.33 113.67C546.08 114.81 546.57 116.14 547.17 117.34C547.77 118.53 548.47 119.62 548.91 120.83C549.36 122.04 549.61 123.34 549.85 124.58C550.09 125.83 550.19 127.08 550.36 128.3C550.53 129.52 550.8 130.7 550.85 131.9C550.9 133.1 550.77 134.31 550.66 135.5Z" fill="#22ff00" stroke="#000" stroke-opacity="0.6" stroke-width="0.45"/>
<path d="M548.32 135.5C548.22 136.59 548.07 137.64 547.95 138.72C547.84 139.8 547.84 140.9 547.61 141.96C547.38 143.02 547.02 144.07 546.58 145.06C546.13 146.04 545.48 146.94 544.93 147.87C544.38 148.81 543.99 149.87 543.29 150.68C542.59 151.5 541.62 152.12 540.74 152.74C539.85 153.35 538.88 153.83 537.98 154.37C537.07 154.9 536.24 155.53 535.31 155.95C534.37 156.37 533.35 156.66 532.35 156.88C531.36 157.09 530.31 157.12 529.32 157.23C528.33 157.34 527.37 157.44 526.4 157.54C525.43 157.64 524.47 157.84 523.5 157.85C522.53 157.86 521.56 157.71 520.59 157.61C519.62 157.51 518.66 157.39 517.67 157.26C516.68 157.12 515.71 156.96 514.67 156.81C513.64 156.65 512.46 156.68 511.48 156.32C510.5 155.96 509.69 155.23 508.82 154.64C507.94 154.05 507.08 153.43 506.23 152.77C505.37 152.12 504.33 151.55 503.68 150.71C503.03 149.87 502.78 148.7 502.34 147.72C501.9 146.73 501.43 145.79 501.03 144.81C500.63 143.82 500.13 142.85 499.92 141.82C499.71 140.79 499.82 139.68 499.78 138.62C499.73 137.57 499.66 136.54 499.63 135.5C499.61 134.46 499.56 133.41 499.62 132.36C499.68 131.31 499.85 130.27 499.98 129.2C500.12 128.13 500.29 127.07 500.45 125.95C500.61 124.83 500.62 123.59 500.95 122.48C501.27 121.37 501.87 120.37 502.4 119.31C502.93 118.25 503.51 117.2 504.13 116.13C504.75 115.05 505.31 113.81 506.12 112.85C506.94 111.9 508.02 111.23 509.01 110.4C510 109.57 510.94 108.53 512.05 107.86C513.17 107.19 514.45 106.78 515.7 106.38C516.95 105.97 518.24 105.72 519.54 105.44C520.84 105.15 522.18 104.66 523.5 104.68C524.82 104.7 526.14 105.27 527.44 105.56C528.74 105.85 530.04 106.04 531.29 106.42C532.55 106.8 533.83 107.19 534.96 107.83C536.09 108.47 537.07 109.45 538.08 110.25C539.09 111.06 540.12 111.79 541.03 112.66C541.93 113.53 542.8 114.47 543.51 115.49C544.22 116.51 544.73 117.69 545.29 118.78C545.85 119.86 546.46 120.89 546.87 122C547.29 123.12 547.55 124.3 547.77 125.45C547.98 126.6 548.03 127.77 548.16 128.89C548.28 130.02 548.5 131.1 548.52 132.21C548.55 133.31 548.41 134.41 548.32 135.5Z" fill="#00ff22" stroke="#000" stroke-opacity="0.6" stroke-width="0.45"/>
<path d="M545.97 135.5C545.89 136.49 545.8 137.44 545.73 138.43C545.65 139.41 545.69 140.42 545.52 141.4C545.36 142.38 545.11 143.38 544.72 144.29C544.34 145.21 543.72 146.02 543.22 146.89C542.72 147.75 542.34 148.72 541.72 149.48C541.09 150.24 540.27 150.89 539.46 151.46C538.65 152.04 537.72 152.45 536.87 152.93C536.03 153.41 535.25 153.96 534.38 154.35C533.51 154.73 532.59 155.02 531.67 155.22C530.75 155.42 529.79 155.45 528.87 155.55C527.96 155.64 527.07 155.72 526.17 155.8C525.28 155.89 524.39 156.05 523.5 156.06C522.61 156.07 521.72 155.94 520.82 155.86C519.92 155.78 519.03 155.7 518.12 155.57C517.22 155.44 516.32 155.26 515.38 155.1C514.44 154.93 513.38 154.91 512.49 154.57C511.59 154.24 510.83 153.6 510.02 153.07C509.21 152.54 508.38 152.01 507.6 151.4C506.82 150.79 505.94 150.2 505.36 149.42C504.78 148.63 504.53 147.59 504.12 146.69C503.71 145.79 503.29 144.93 502.91 144.03C502.54 143.13 502.07 142.24 501.88 141.29C501.68 140.35 501.8 139.33 501.76 138.36C501.72 137.4 501.66 136.46 501.64 135.5C501.62 134.54 501.58 133.58 501.63 132.62C501.68 131.66 501.8 130.7 501.93 129.72C502.06 128.74 502.24 127.78 502.41 126.76C502.58 125.75 502.63 124.63 502.93 123.63C503.24 122.62 503.75 121.68 504.25 120.73C504.74 119.78 505.32 118.86 505.92 117.92C506.51 116.98 507.07 115.91 507.83 115.08C508.58 114.24 509.56 113.63 510.46 112.91C511.36 112.19 512.23 111.31 513.24 110.73C514.25 110.16 515.41 109.83 516.53 109.49C517.65 109.14 518.81 108.93 519.97 108.69C521.13 108.45 522.33 108.02 523.5 108.04C524.67 108.05 525.86 108.53 527.02 108.78C528.18 109.02 529.34 109.19 530.46 109.51C531.59 109.83 532.74 110.16 533.77 110.69C534.81 111.23 535.72 112.02 536.65 112.71C537.59 113.41 538.52 114.07 539.36 114.84C540.19 115.6 541.01 116.42 541.69 117.31C542.36 118.21 542.89 119.24 543.42 120.22C543.94 121.2 544.46 122.17 544.83 123.18C545.21 124.2 545.49 125.26 545.68 126.31C545.87 127.36 545.87 128.45 545.95 129.48C546.04 130.52 546.19 131.51 546.2 132.51C546.2 133.51 546.05 134.51 545.97 135.5Z" fill="#00ff66" stroke="#000" stroke-opacity="0.6" stroke-width="0.45"/>
<path d="M543.79 135.5C543.72 136.39 543.69 137.26 543.65 138.15C543.61 139.05 543.68 139.97 543.57 140.88C543.46 141.78 543.32 142.73 543 143.58C542.67 144.42 542.08 145.17 541.62 145.96C541.17 146.76 540.81 147.64 540.25 148.35C539.69 149.07 539 149.73 538.27 150.27C537.53 150.81 536.63 151.16 535.84 151.59C535.05 152.02 534.32 152.5 533.52 152.85C532.72 153.2 531.88 153.49 531.03 153.68C530.19 153.87 529.3 153.89 528.45 153.98C527.61 154.06 526.78 154.11 525.96 154.18C525.13 154.25 524.32 154.38 523.5 154.39C522.68 154.39 521.86 154.29 521.03 154.23C520.21 154.16 519.38 154.12 518.54 154C517.71 153.88 516.9 153.67 516.04 153.5C515.19 153.32 514.24 153.26 513.43 152.95C512.61 152.63 511.9 152.07 511.14 151.6C510.39 151.13 509.58 150.68 508.88 150.12C508.18 149.56 507.44 148.95 506.93 148.22C506.41 147.48 506.16 146.55 505.79 145.73C505.41 144.91 505.02 144.12 504.67 143.3C504.32 142.48 503.88 141.67 503.7 140.8C503.52 139.94 503.64 139 503.6 138.12C503.57 137.24 503.53 136.38 503.51 135.5C503.49 134.62 503.46 133.75 503.5 132.87C503.54 131.99 503.62 131.1 503.74 130.21C503.87 129.32 504.07 128.44 504.24 127.52C504.42 126.61 504.5 125.61 504.79 124.7C505.08 123.78 505.5 122.9 505.97 122.05C506.44 121.2 507.02 120.41 507.59 119.59C508.17 118.77 508.72 117.87 509.42 117.15C510.12 116.43 510.99 115.88 511.81 115.26C512.63 114.63 513.44 113.89 514.35 113.41C515.27 112.94 516.3 112.67 517.31 112.39C518.31 112.1 519.34 111.92 520.37 111.72C521.4 111.52 522.46 111.16 523.5 111.17C524.54 111.18 525.59 111.58 526.62 111.78C527.65 111.99 528.68 112.13 529.69 112.39C530.7 112.66 531.73 112.93 532.67 113.37C533.61 113.8 534.47 114.43 535.33 115.01C536.18 115.6 537.02 116.2 537.8 116.87C538.57 117.54 539.34 118.23 539.98 119.02C540.63 119.8 541.18 120.68 541.67 121.56C542.16 122.44 542.59 123.35 542.93 124.28C543.28 125.21 543.57 126.16 543.73 127.12C543.89 128.08 543.85 129.09 543.89 130.04C543.94 130.98 544.04 131.89 544.02 132.8C544.01 133.71 543.85 134.61 543.79 135.5Z" fill="#00ffaa" stroke="#000" stroke-opacity="0.6" stroke-width="0.45"/>
<path d="M541.76 135.5C541.71 136.31 541.72 137.08 541.72 137.9C541.72 138.71 541.82 139.56 541.76 140.39C541.71 141.23 541.66 142.13 541.39 142.91C541.12 143.7 540.56 144.38 540.14 145.11C539.73 145.84 539.39 146.63 538.89 147.31C538.39 147.99 537.83 148.66 537.16 149.16C536.49 149.67 535.63 149.95 534.89 150.34C534.14 150.72 533.46 151.15 532.72 151.46C531.98 151.78 531.21 152.07 530.44 152.25C529.66 152.42 528.84 152.45 528.06 152.52C527.28 152.59 526.52 152.63 525.76 152.68C525 152.73 524.25 152.83 523.5 152.83C522.75 152.84 521.99 152.76 521.23 152.71C520.47 152.66 519.7 152.65 518.94 152.53C518.17 152.42 517.43 152.2 516.66 152.02C515.89 151.83 515.05 151.73 514.3 151.43C513.56 151.14 512.89 150.66 512.19 150.24C511.48 149.82 510.7 149.46 510.07 148.93C509.43 148.41 508.84 147.78 508.38 147.1C507.93 146.42 507.68 145.58 507.33 144.84C506.98 144.09 506.62 143.37 506.3 142.62C505.98 141.88 505.56 141.14 505.4 140.35C505.23 139.56 505.35 138.7 505.32 137.89C505.3 137.08 505.26 136.3 505.25 135.5C505.24 134.7 505.21 133.9 505.24 133.1C505.27 132.29 505.31 131.47 505.43 130.66C505.54 129.85 505.77 129.06 505.95 128.23C506.13 127.4 506.24 126.52 506.51 125.69C506.78 124.87 507.13 124.03 507.57 123.28C508.01 122.52 508.59 121.84 509.14 121.14C509.7 120.44 510.24 119.69 510.9 119.07C511.55 118.46 512.32 117.96 513.07 117.43C513.82 116.9 514.56 116.29 515.38 115.9C516.21 115.51 517.14 115.31 518.03 115.08C518.92 114.85 519.83 114.7 520.74 114.54C521.65 114.37 522.58 114.08 523.5 114.09C524.42 114.09 525.34 114.41 526.25 114.57C527.17 114.74 528.08 114.86 528.97 115.07C529.87 115.28 530.79 115.5 531.64 115.85C532.49 116.2 533.31 116.66 534.1 117.15C534.88 117.63 535.63 118.18 536.35 118.76C537.07 119.33 537.79 119.92 538.4 120.6C539.02 121.27 539.58 122.02 540.04 122.81C540.5 123.59 540.85 124.46 541.16 125.3C541.48 126.15 541.79 126.99 541.92 127.87C542.06 128.74 541.97 129.68 541.98 130.55C542 131.41 542.05 132.24 542.01 133.06C541.97 133.89 541.8 134.69 541.76 135.5Z" fill="#00ffee" stroke="#000" stroke-opacity="0.6" stroke-width="0.45"/>
<path d="M539.88 135.5C539.85 136.23 539.91 136.92 539.94 137.66C539.98 138.41 540.1 139.17 540.09 139.95C540.09 140.72 540.13 141.57 539.91 142.3C539.69 143.03 539.15 143.64 538.77 144.32C538.39 144.99 538.07 145.71 537.63 146.35C537.2 146.98 536.75 147.67 536.14 148.14C535.53 148.61 534.7 148.85 534 149.19C533.31 149.53 532.66 149.89 531.98 150.18C531.29 150.47 530.6 150.76 529.89 150.93C529.18 151.09 528.42 151.11 527.7 151.18C526.98 151.24 526.28 151.25 525.58 151.29C524.88 151.33 524.19 151.4 523.5 151.4C522.81 151.41 522.12 151.35 521.42 151.31C520.72 151.28 520 151.3 519.3 151.19C518.6 151.07 517.92 150.84 517.23 150.65C516.53 150.46 515.78 150.32 515.11 150.04C514.43 149.76 513.81 149.35 513.15 148.98C512.5 148.62 511.74 148.32 511.17 147.83C510.59 147.35 510.13 146.7 509.73 146.07C509.33 145.43 509.08 144.69 508.76 144.01C508.44 143.33 508.11 142.68 507.81 142C507.51 141.32 507.11 140.65 506.96 139.93C506.81 139.21 506.92 138.42 506.91 137.68C506.89 136.95 506.86 136.23 506.85 135.5C506.84 134.77 506.83 134.05 506.85 133.31C506.87 132.57 506.87 131.81 506.98 131.07C507.09 130.34 507.33 129.62 507.52 128.88C507.7 128.14 507.85 127.35 508.1 126.61C508.36 125.86 508.64 125.08 509.05 124.41C509.46 123.74 510.04 123.17 510.58 122.58C511.11 121.98 511.65 121.37 512.26 120.85C512.87 120.33 513.55 119.88 514.23 119.44C514.91 119 515.59 118.51 516.33 118.2C517.08 117.89 517.9 117.74 518.69 117.57C519.49 117.39 520.28 117.27 521.08 117.14C521.88 117 522.69 116.77 523.5 116.77C524.31 116.78 525.11 117.02 525.92 117.15C526.72 117.28 527.52 117.38 528.31 117.54C529.11 117.71 529.92 117.88 530.69 118.14C531.46 118.4 532.24 118.73 532.96 119.12C533.68 119.51 534.35 120.01 535.01 120.5C535.68 120.99 536.36 121.48 536.95 122.05C537.53 122.63 538.11 123.26 538.54 123.96C538.97 124.66 539.25 125.48 539.53 126.24C539.82 127.01 540.14 127.76 540.25 128.56C540.37 129.36 540.24 130.23 540.22 131.02C540.2 131.81 540.2 132.56 540.15 133.31C540.09 134.06 539.92 134.77 539.88 135.5Z" fill="#00ccff" stroke="#000" stroke-opacity="0.6" stroke-width="0.45"/>
<path d="M538.16 135.5C538.14 136.15 538.24 136.78 538.31 137.45C538.37 138.12 538.52 138.82 538.56 139.53C538.6 140.25 538.73 141.06 538.55 141.74C538.38 142.41 537.87 142.97 537.52 143.59C537.17 144.22 536.87 144.86 536.48 145.46C536.1 146.06 535.75 146.76 535.2 147.2C534.65 147.65 533.84 147.83 533.19 148.13C532.54 148.43 531.93 148.74 531.3 149.01C530.67 149.27 530.04 149.56 529.39 149.71C528.73 149.87 528.03 149.89 527.37 149.94C526.71 149.99 526.06 149.99 525.41 150.02C524.77 150.04 524.14 150.09 523.5 150.09C522.86 150.09 522.23 150.05 521.59 150.03C520.94 150.01 520.27 150.06 519.63 149.95C518.99 149.84 518.38 149.59 517.75 149.39C517.11 149.19 516.46 149.02 515.84 148.76C515.23 148.5 514.65 148.15 514.04 147.83C513.42 147.51 512.68 147.28 512.17 146.83C511.66 146.38 511.31 145.72 510.96 145.12C510.61 144.53 510.36 143.87 510.06 143.26C509.77 142.64 509.46 142.05 509.19 141.43C508.91 140.81 508.53 140.2 508.39 139.55C508.26 138.89 508.37 138.17 508.36 137.49C508.35 136.82 508.33 136.17 508.32 135.5C508.32 134.83 508.31 134.18 508.32 133.5C508.34 132.83 508.3 132.13 508.41 131.46C508.51 130.79 508.77 130.14 508.96 129.48C509.15 128.81 509.32 128.12 509.56 127.45C509.8 126.78 510.01 126.04 510.4 125.45C510.79 124.86 511.37 124.39 511.89 123.89C512.41 123.4 512.94 122.91 513.51 122.48C514.08 122.05 514.68 121.65 515.29 121.28C515.91 120.92 516.54 120.54 517.21 120.3C517.87 120.06 518.61 119.98 519.31 119.84C520 119.71 520.7 119.62 521.4 119.52C522.1 119.42 522.8 119.24 523.5 119.24C524.2 119.24 524.9 119.42 525.6 119.51C526.31 119.61 527 119.69 527.7 119.81C528.41 119.93 529.12 120.06 529.82 120.24C530.52 120.43 531.25 120.62 531.91 120.93C532.58 121.23 533.17 121.68 533.79 122.09C534.4 122.51 535.04 122.91 535.61 123.39C536.17 123.88 536.76 124.4 537.16 125.02C537.57 125.63 537.78 126.41 538.04 127.11C538.3 127.8 538.63 128.47 538.72 129.19C538.82 129.92 538.65 130.73 538.6 131.45C538.56 132.18 538.51 132.86 538.44 133.53C538.37 134.21 538.18 134.85 538.16 135.5Z" fill="#0088ff" stroke="#000" stroke-opacity="0.6" stroke-width="0.45"/>
<path d="M536.6 135.5C536.59 136.09 536.73 136.64 536.82 137.25C536.92 137.86 537.08 138.5 537.17 139.16C537.25 139.82 537.45 140.59 537.32 141.22C537.19 141.85 536.69 142.36 536.38 142.94C536.07 143.51 535.77 144.09 535.44 144.66C535.1 145.23 534.85 145.93 534.35 146.35C533.86 146.77 533.07 146.91 532.46 147.17C531.84 147.44 531.27 147.7 530.68 147.94C530.1 148.18 529.53 148.47 528.93 148.61C528.33 148.76 527.68 148.78 527.07 148.82C526.46 148.86 525.85 148.85 525.26 148.86C524.66 148.87 524.09 148.89 523.5 148.89C522.91 148.9 522.34 148.88 521.74 148.87C521.15 148.85 520.52 148.93 519.93 148.82C519.34 148.72 518.79 148.46 518.22 148.25C517.65 148.05 517.08 147.84 516.52 147.6C515.95 147.35 515.41 147.07 514.84 146.79C514.27 146.51 513.55 146.33 513.09 145.91C512.63 145.49 512.39 144.82 512.08 144.26C511.78 143.7 511.53 143.13 511.25 142.57C510.98 142.01 510.7 141.47 510.44 140.91C510.18 140.35 509.82 139.8 509.7 139.2C509.57 138.6 509.69 137.94 509.68 137.32C509.67 136.7 509.67 136.11 509.66 135.5C509.66 134.89 509.65 134.29 509.66 133.68C509.67 133.06 509.6 132.41 509.7 131.8C509.8 131.19 510.07 130.62 510.27 130.02C510.46 129.42 510.66 128.82 510.88 128.22C511.11 127.61 511.27 126.92 511.63 126.39C512 125.87 512.59 125.49 513.09 125.09C513.59 124.68 514.12 124.32 514.65 123.96C515.17 123.61 515.7 123.25 516.26 122.96C516.82 122.67 517.4 122.39 518 122.22C518.6 122.04 519.25 122 519.86 121.92C520.47 121.83 521.07 121.76 521.68 121.69C522.29 121.61 522.89 121.48 523.5 121.48C524.11 121.47 524.71 121.59 525.32 121.66C525.93 121.72 526.53 121.79 527.15 121.87C527.77 121.95 528.39 122.03 529.03 122.15C529.67 122.27 530.36 122.33 530.97 122.57C531.57 122.8 532.1 123.21 532.67 123.55C533.24 123.89 533.85 124.2 534.39 124.61C534.93 125.01 535.53 125.43 535.91 125.97C536.29 126.52 536.44 127.26 536.68 127.89C536.91 128.53 537.26 129.11 537.33 129.77C537.41 130.43 537.21 131.19 537.13 131.85C537.06 132.51 536.98 133.13 536.89 133.74C536.8 134.35 536.61 134.91 536.6 135.5Z" fill="#0044ff" stroke="#000" stroke-opacity="0.6" stroke-width="0.45"/>
<path d="M535.04 135.5C535.04 136.02 535.22 136.51 535.34 137.06C535.46 137.61 535.65 138.18 535.77 138.79C535.9 139.4 536.17 140.13 536.09 140.71C536 141.29 535.52 141.75 535.24 142.28C534.96 142.8 534.68 143.32 534.39 143.85C534.1 144.39 533.94 145.11 533.5 145.5C533.06 145.89 532.29 145.98 531.72 146.21C531.15 146.44 530.61 146.66 530.07 146.87C529.53 147.09 529.02 147.37 528.47 147.51C527.93 147.65 527.33 147.67 526.77 147.7C526.21 147.73 525.65 147.7 525.11 147.7C524.56 147.7 524.04 147.7 523.5 147.7C522.96 147.7 522.44 147.7 521.89 147.7C521.35 147.7 520.76 147.8 520.23 147.7C519.7 147.6 519.2 147.32 518.69 147.11C518.18 146.9 517.7 146.66 517.19 146.43C516.68 146.21 516.17 145.98 515.64 145.74C515.11 145.5 514.41 145.39 514 145C513.59 144.61 513.46 143.92 513.2 143.4C512.94 142.88 512.69 142.39 512.44 141.88C512.19 141.38 511.94 140.9 511.69 140.39C511.45 139.88 511.12 139.39 511 138.85C510.88 138.31 511 137.7 511 137.15C511 136.59 511 136.05 511 135.5C511 134.95 511 134.41 511 133.85C511 133.3 510.9 132.7 511 132.15C511.1 131.6 511.37 131.09 511.58 130.56C511.78 130.03 511.99 129.52 512.21 128.98C512.42 128.44 512.52 127.79 512.86 127.34C513.21 126.89 513.8 126.6 514.28 126.28C514.77 125.97 515.29 125.72 515.78 125.44C516.27 125.17 516.72 124.85 517.23 124.63C517.73 124.41 518.26 124.24 518.79 124.13C519.32 124.02 519.89 124.03 520.42 123.99C520.94 123.94 521.45 123.9 521.97 123.85C522.48 123.81 522.99 123.73 523.5 123.72C524.01 123.71 524.52 123.77 525.04 123.81C525.56 123.84 526.07 123.89 526.6 123.93C527.13 123.97 527.67 124.01 528.24 124.06C528.81 124.11 529.47 124.05 530.02 124.21C530.57 124.37 531.03 124.73 531.56 125C532.09 125.27 532.66 125.5 533.18 125.82C533.69 126.15 534.31 126.46 534.66 126.93C535.02 127.41 535.1 128.11 535.32 128.68C535.53 129.25 535.88 129.75 535.94 130.35C536 130.94 535.77 131.64 535.67 132.24C535.56 132.84 535.44 133.4 535.34 133.94C535.23 134.48 535.04 134.98 535.04 135.5Z" fill="#0000ff" stroke="#000" stroke-opacity="0.6" stroke-width="0.45"/>
<path d="M522 111C521.58 110.17 523.67 106 524.5 106C525.33 106 527.42 110.17 527 111C526.58 111.83 522.42 111.83 522 111Z" fill="#22ff00" stroke="#000" stroke-opacity="0.75" stroke-width="0.55"/>
<ellipse cx="561.2" cy="110" rx="4.8" ry="7.5" fill="#22ff00" stroke="#000" stroke-opacity="0.6" stroke-width="0.45"/>
<ellipse cx="561.8" cy="109.5" rx="3.6" ry="5.2" fill="#00ff22" stroke="#000" stroke-opacity="0.6" stroke-width="0.45"/>
<ellipse cx="562.2" cy="109.2" rx="2.6" ry="3.4" fill="#00ff66" stroke="#000" stroke-opacity="0.6" stroke-width="0.45"/>
<ellipse cx="562.5" cy="109" rx="1.7" ry="2.1" fill="#00ffaa" stroke="#000" stroke-opacity="0.6" stroke-width="0.45"/>
<rect x="564.9" y="105.2" width="34.9" height="23.4" fill="#fff"/>
</g>
<path d="M380.8 0.5V244.2H648.8" fill="none" stroke="#000" stroke-width="1.3"/>
<path d="M380.9 244.2V238.2M397.65 244.2V240.7M380.8 234.15H384.3M414.4 244.2V240.7M380.8 217.4H384.3M431.15 244.2V240.7M380.8 200.65H384.3M447.9 244.2V238.2M380.8 183.9H386.8M464.65 244.2V240.7M380.8 167.15H384.3M481.4 244.2V240.7M380.8 150.4H384.3M498.15 244.2V240.7M380.8 133.65H384.3M514.9 244.2V238.2M380.8 116.9H386.8M531.65 244.2V240.7M380.8 100.15H384.3M548.4 244.2V240.7M380.8 83.4H384.3M565.15 244.2V240.7M380.8 66.65H384.3M581.9 244.2V238.2M380.8 49.9H386.8M598.65 244.2V240.7M380.8 33.15H384.3M615.4 244.2V240.7M380.8 16.4H384.3M632.15 244.2V240.7M648.9 244.2V238.2" fill="none" stroke="#000" stroke-width="1"/>
<g font-family='"Liberation Serif", serif' font-weight="bold" fill="#000" stroke="#000" stroke-width="0.2">
<text x="380.9" y="253.7" text-anchor="middle" font-size="9.6">-0.4</text>
<text x="447.9" y="253.7" text-anchor="middle" font-size="9.6">-0.2</text>
<text x="377.8" y="186.9" text-anchor="end" font-size="9.6">-0.2</text>
<text x="514.9" y="253.7" text-anchor="middle" font-size="9.6">0</text>
<text x="377.8" y="119.9" text-anchor="end" font-size="9.6">0</text>
<text x="581.9" y="253.7" text-anchor="middle" font-size="9.6">0.2</text>
<text x="377.8" y="52.9" text-anchor="end" font-size="9.6">0.2</text>
<text x="514.5" y="261.9" text-anchor="middle" font-size="11">X</text>
<text transform="translate(366.6 122.5) rotate(-90)" text-anchor="middle" font-size="11">Y</text>
<text x="334.6" y="55.8" font-size="15.3" font-weight="normal" stroke="#000" stroke-width="0.55">(b)</text>
</g>
<rect x="650.3" y="41.7" width="11.6" height="4.74" fill="#ff0000"/>
<rect x="650.3" y="46.44" width="11.6" height="9.49" fill="#ff4400"/>
<rect x="650.3" y="55.93" width="11.6" height="9.49" fill="#ff8800"/>
<rect x="650.3" y="65.42" width="11.6" height="9.49" fill="#ffcc00"/>
<rect x="650.3" y="74.9" width="11.6" height="9.49" fill="#eeff00"/>
<rect x="650.3" y="84.39" width="11.6" height="9.49" fill="#aaff00"/>
<rect x="650.3" y="93.88" width="11.6" height="9.49" fill="#66ff00"/>
<rect x="650.3" y="103.36" width="11.6" height="9.49" fill="#22ff00"/>
<rect x="650.3" y="112.85" width="11.6" height="9.49" fill="#00ff22"/>
<rect x="650.3" y="122.34" width="11.6" height="9.49" fill="#00ff66"/>
<rect x="650.3" y="131.82" width="11.6" height="9.49" fill="#00ffaa"/>
<rect x="650.3" y="141.31" width="11.6" height="9.49" fill="#00ffee"/>
<rect x="650.3" y="150.8" width="11.6" height="9.49" fill="#00ccff"/>
<rect x="650.3" y="160.28" width="11.6" height="9.49" fill="#0088ff"/>
<rect x="650.3" y="169.77" width="11.6" height="9.49" fill="#0044ff"/>
<rect x="650.3" y="179.26" width="11.6" height="4.74" fill="#0000ff"/>
<path d="M650.3 46.44H661.9M650.3 55.93H661.9M650.3 65.42H661.9M650.3 74.9H661.9M650.3 84.39H661.9M650.3 93.88H661.9M650.3 103.36H661.9M650.3 112.85H661.9M650.3 122.34H661.9M650.3 131.82H661.9M650.3 141.31H661.9M650.3 150.8H661.9M650.3 160.28H661.9M650.3 169.77H661.9M650.3 179.26H661.9" stroke="#000" stroke-opacity="0.7" stroke-width="0.6"/>
<rect x="650.3" y="41.7" width="11.6" height="142.3" fill="none" stroke="#000" stroke-opacity="0.5" stroke-width="0.5"/>
<g font-family='"Liberation Serif", serif' font-weight="bold" fill="#000" stroke="#000" stroke-width="0.25" font-size="7.4">
<text x="684.8" y="50.04" text-anchor="end">1.50</text>
<text x="684.8" y="59.53" text-anchor="end">1.25</text>
<text x="684.8" y="69.02" text-anchor="end">1.00</text>
<text x="684.8" y="78.5" text-anchor="end">0.75</text>
<text x="684.8" y="87.99" text-anchor="end">0.50</text>
<text x="684.8" y="97.48" text-anchor="end">0.25</text>
<text x="684.8" y="106.96" text-anchor="end">0.00</text>
<text x="684.8" y="116.45" text-anchor="end">-0.25</text>
<text x="684.8" y="125.94" text-anchor="end">-0.50</text>
<text x="684.8" y="135.42" text-anchor="end">-0.75</text>
<text x="684.8" y="144.91" text-anchor="end">-1.00</text>
<text x="684.8" y="154.4" text-anchor="end">-1.25</text>
<text x="684.8" y="163.88" text-anchor="end">-1.50</text>
<text x="684.8" y="173.37" text-anchor="end">-1.75</text>
<text x="684.8" y="182.86" text-anchor="end">-2.00</text>
<text x="671.4" y="36.2" font-size="7.6">Cp</text>
</g>
<clipPath id="clipc"><rect x="45.6" y="282.1" width="255.5" height="231.9"/></clipPath>
<g clip-path="url(#clipc)">
<rect x="45.6" y="282.1" width="255.5" height="231.9" fill="#ff0000"/>
<path d="M68.6 400C68.53 395.83 68.73 386.95 69.3 381.2C69.87 375.45 70.8 370.37 72 365.5C73.2 360.63 74.63 356.5 76.5 352C78.37 347.5 80.58 342.63 83.2 338.5C85.82 334.37 88.45 331.33 92.2 327.2C95.95 323.07 100.82 317.82 105.7 313.7C110.58 309.58 115.87 305.68 121.5 302.5C127.13 299.32 133.5 296.85 139.5 294.6C145.5 292.35 152.08 290.5 157.5 289C162.92 287.5 167.67 286.2 172 285.6C176.33 285 178.22 285.02 183.5 285.4C188.78 285.78 196.58 286.37 203.7 287.9C210.82 289.43 219.32 292.28 226.2 294.6C233.08 296.92 240.18 299.75 245 301.8C249.82 303.85 251.73 304.78 255.1 306.9C258.47 309.02 261.82 311.7 265.2 314.5C268.58 317.3 272.3 320.48 275.4 323.7C278.5 326.92 281.28 330.15 283.8 333.8C286.32 337.45 288.53 341.65 290.5 345.6C292.47 349.55 294.25 353.55 295.6 357.5C296.95 361.45 297.9 365.55 298.6 369.3C299.3 373.05 299.53 376.43 299.8 380C300.07 383.57 300.17 386.68 300.2 390.7C300.23 394.72 300.45 399.38 300 404.1C299.55 408.82 299.32 413.4 297.5 419C295.68 424.6 292 431.22 289.1 437.7C286.2 444.18 283.85 451.17 280.1 457.9C276.35 464.63 271.47 472.1 266.6 478.1C261.73 484.1 256.52 489.4 250.9 493.9C245.28 498.4 238.9 502.1 232.9 505.1C226.9 508.1 219.38 510.33 214.9 511.9C210.42 513.47 210.15 512.82 206 514.5C201.85 516.18 196.83 521.08 190 522C183.17 522.92 169.67 521.48 165 520C160.33 518.52 165.5 515.57 162 513.1C158.5 510.63 149.63 508.38 144 505.2C138.37 502.02 133.45 498.12 128.2 494C122.95 489.88 117.37 485 112.5 480.5C107.63 476 103.13 471.5 99 467C94.87 462.5 91.08 458.38 87.7 453.5C84.32 448.62 81.13 442.95 78.7 437.7C76.27 432.45 74.6 427.25 73.1 422C71.6 416.75 70.45 409.87 69.7 406.2C68.95 402.53 68.67 404.17 68.6 400Z" fill="#ff3c00" stroke="#000" stroke-opacity="0.75" stroke-width="0.55"/>
<path d="M237.7 392C237.7 392 254.5 404 254.5 404C254.5 404 254.32 404.08 255.3 404.1C256.28 404.12 258.43 404.93 260.4 404.1C262.37 403.27 265.08 401.33 267.1 399.1C269.12 396.87 271.12 393.88 272.5 390.7C273.88 387.52 275.07 383.57 275.4 380C275.73 376.43 275.35 373.05 274.5 369.3C273.65 365.55 272.13 361.17 270.3 357.5C268.47 353.83 266.03 350.27 263.5 347.3C260.97 344.33 258.18 341.8 255.1 339.7C252.02 337.6 248.33 336.23 245 334.7C241.67 333.17 239.27 332.12 235.1 330.5C230.93 328.88 225.23 326.68 220 325C214.77 323.32 209.78 321.72 203.7 320.4C197.62 319.08 189.12 317.47 183.5 317.1C177.88 316.73 174.33 317.45 170 318.2C165.67 318.95 162.22 320.1 157.5 321.6C152.78 323.1 146.58 324.95 141.7 327.2C136.82 329.45 132.32 332.1 128.2 335.1C124.08 338.1 120.37 341.63 117 345.2C113.63 348.77 110.25 352.75 108 356.5C105.75 360.25 104.63 363.58 103.5 367.7C102.37 371.82 101.77 375.82 101.2 381.2C100.63 386.58 99.9 395.45 100.1 400C100.3 404.55 101.27 404.47 102.4 408.5C103.53 412.53 104.85 418.95 106.9 424.2C108.95 429.45 111.52 434.75 114.7 440C117.88 445.25 121.87 450.83 126 455.7C130.13 460.57 134.63 465.07 139.5 469.2C144.37 473.33 150.12 477.88 155.2 480.5C160.28 483.12 164.53 484.35 170 484.9C175.47 485.45 182.38 484.93 188 483.8C193.62 482.67 198.83 480.53 203.7 478.1C208.57 475.67 213.48 471.8 217.2 469.2C220.92 466.6 223.53 464.7 226 462.5C228.47 460.3 230.5 458.25 232 456C233.5 453.75 234.33 451.25 235 449C235.67 446.75 235.93 444.67 236 442.5C236.07 440.33 235.97 438.4 235.4 436C234.83 433.6 233.63 430.92 232.6 428.1C231.57 425.28 230.23 421.92 229.2 419.1C228.17 416.28 227.1 413.47 226.4 411.2C225.7 408.93 225.32 406.77 225 405.5C224.68 404.23 224.5 403.6 224.5 403.6C224.5 403.6 237.7 392 237.7 392Z" fill="#ff7800" stroke="#000" stroke-opacity="0.75" stroke-width="0.55"/>
<path d="M237.7 392C237.7 392 254.5 391.5 254.5 391.5C254.5 391.5 257.3 391.4 258.7 390.7C260.1 390 261.78 389 262.9 387.3C264.02 385.6 265.12 383.03 265.4 380.5C265.68 377.97 265.43 374.9 264.6 372.1C263.77 369.3 262.78 366.5 260.4 363.7C258.02 360.9 253.95 358.12 250.3 355.3C246.65 352.48 242.72 349.05 238.5 346.8C234.28 344.55 230.05 343.38 225 341.8C219.95 340.22 214.37 338.62 208.2 337.3C202.03 335.98 193.53 334.45 188 333.9C182.47 333.35 180.08 333.42 175 334C169.92 334.58 163.05 335.72 157.5 337.4C151.95 339.08 146.58 341.3 141.7 344.1C136.82 346.9 131.77 350.63 128.2 354.2C124.63 357.77 122.17 361.37 120.3 365.5C118.43 369.63 117.8 374.08 117 379C116.2 383.92 115.32 390.08 115.5 395C115.68 399.92 116.92 403.63 118.1 408.5C119.28 413.37 120.53 418.95 122.6 424.2C124.67 429.45 127.32 435.12 130.5 440C133.68 444.88 137.58 449.57 141.7 453.5C145.82 457.43 150.48 460.72 155.2 463.6C159.92 466.48 164.53 469.68 170 470.8C175.47 471.92 182.38 471.32 188 470.3C193.62 469.28 199.22 467.13 203.7 464.7C208.18 462.27 211.9 459.08 214.9 455.7C217.9 452.32 220.2 448.52 221.7 444.4C223.2 440.28 223.53 435.48 223.9 431C224.27 426.52 224.08 421.58 223.9 417.5C223.72 413.42 223.2 408.82 222.8 406.5C222.4 404.18 221.5 403.6 221.5 403.6C221.5 403.6 237.7 392 237.7 392Z" fill="#ffb400" stroke="#000" stroke-opacity="0.75" stroke-width="0.55"/>
<path d="M254.5 395.5C254.5 395.5 256.8 396.17 257.5 397C258.2 397.83 258.7 399.42 258.7 400.5C258.7 401.58 258.2 402.92 257.5 403.5C256.8 404.08 254.5 404 254.5 404C254.5 404 254.5 395.5 254.5 395.5Z" fill="#ffb400" stroke="#000" stroke-opacity="0.75" stroke-width="0.55"/>
<path d="M237.7 392C237.7 392 254.5 385.6 254.5 385.6C254.5 385.6 254.47 385.88 255.3 385.6C256.13 385.32 258.52 385.3 259.5 383.9C260.48 382.5 261.33 379.72 261.2 377.2C261.07 374.68 260.52 371.62 258.7 368.8C256.88 365.98 253.67 362.83 250.3 360.3C246.93 357.77 242.72 355.28 238.5 353.6C234.28 351.92 228.72 350.97 225 350.2C221.28 349.43 219.55 349.58 216.2 349C212.85 348.42 208.65 347.27 204.9 346.7C201.15 346.13 197.43 345.87 193.7 345.6C189.97 345.33 186.25 344.92 182.5 345.1C178.75 345.28 174.95 345.72 171.2 346.7C167.45 347.68 164.03 349.28 160 351C155.97 352.72 150.83 354.5 147 357C143.17 359.5 139.75 362.67 137 366C134.25 369.33 132.08 373 130.5 377C128.92 381 128.07 386.17 127.5 390C126.93 393.83 127.1 396.67 127.1 400C127.1 403.33 126.75 405.97 127.5 410C128.25 414.03 129.6 419.58 131.6 424.2C133.6 428.82 136.32 433.57 139.5 437.7C142.68 441.83 146.58 445.62 150.7 449C154.82 452.38 160.32 455.87 164.2 458C168.08 460.13 170.42 461.13 174 461.8C177.58 462.47 181.5 462.65 185.7 462C189.9 461.35 195.27 459.88 199.2 457.9C203.13 455.92 206.68 453.08 209.3 450.1C211.92 447.12 213.52 443.93 214.9 440C216.28 436.07 217.03 431 217.6 426.5C218.17 422 217.9 416.5 218.3 413C218.7 409.5 219.55 407.07 220 405.5C220.45 403.93 221 403.6 221 403.6C221 403.6 237.7 392 237.7 392Z" fill="#fff000" stroke="#000" stroke-opacity="0.75" stroke-width="0.55"/>
<path d="M237.7 392C237.7 392 254.5 381.5 254.5 381.5C254.5 381.5 256.3 382.63 257 382.2C257.7 381.77 258.83 380.58 258.7 378.9C258.57 377.22 257.88 374.35 256.2 372.1C254.52 369.85 251.55 367.37 248.6 365.4C245.65 363.43 241.93 361.5 238.5 360.3C235.07 359.1 231.72 358.58 228 358.2C224.28 357.82 220.05 358.22 216.2 358C212.35 357.78 208.65 357.28 204.9 356.9C201.15 356.52 197.43 355.9 193.7 355.7C189.97 355.5 186.25 355.32 182.5 355.7C178.75 356.08 175 356.75 171.2 358C167.4 359.25 163.48 361.2 159.7 363.2C155.92 365.2 151.68 367.37 148.5 370C145.32 372.63 142.67 375.63 140.6 379C138.53 382.37 137.28 386.7 136.1 390.2C134.92 393.7 133.98 396.7 133.5 400C133.02 403.3 132.58 406.33 133.2 410C133.82 413.67 135.4 417.93 137.2 422C139 426.07 141 430.65 144 434.4C147 438.15 151.45 441.7 155.2 444.5C158.95 447.3 163.2 449.63 166.5 451.2C169.8 452.77 172.17 453.45 175 453.9C177.83 454.35 179.83 454.73 183.5 453.9C187.17 453.07 193.25 451.03 197 448.9C200.75 446.77 203.57 444.08 206 441.1C208.43 438.12 210.3 434.57 211.6 431C212.9 427.43 213.05 423.45 213.8 419.7C214.55 415.95 215.15 411.08 216.1 408.5C217.05 405.92 218.7 405.05 219.5 404.2C220.3 403.35 220.9 403.4 220.9 403.4C220.9 403.4 237.7 392 237.7 392Z" fill="#d2ff00" stroke="#000" stroke-opacity="0.75" stroke-width="0.55"/>
<path d="M237.7 392C237.7 392 254.5 380.5 254.5 380.5C254.5 380.5 256 379.42 256 378C256 376.58 255.5 373.92 254.5 372C253.5 370.08 252.12 367.92 250 366.5C247.88 365.08 245.13 364.27 241.8 363.5C238.47 362.73 233.33 362.07 230 361.9C226.67 361.73 224.48 361.85 221.8 362.5C219.12 363.15 216.15 364.58 213.9 365.8C211.65 367.02 210.17 369.42 208.3 369.8C206.43 370.18 205.13 368.95 202.7 368.1C200.27 367.25 197.07 365.35 193.7 364.7C190.33 364.05 186.25 363.93 182.5 364.2C178.75 364.47 174.62 365.42 171.2 366.3C167.78 367.18 165.03 367.95 162 369.5C158.97 371.05 155.63 373.08 153 375.6C150.37 378.12 148.12 380.87 146.2 384.6C144.28 388.33 142.37 393.77 141.5 398C140.63 402.23 140.67 406 141 410C141.33 414 142.17 418.17 143.5 422C144.83 425.83 146.75 429.67 149 433C151.25 436.33 154 439.42 157 442C160 444.58 163.5 446.92 167 448.5C170.5 450.08 174.33 451.25 178 451.5C181.67 451.75 185.67 451.08 189 450C192.33 448.92 195.42 447 198 445C200.58 443 202.75 440.67 204.5 438C206.25 435.33 207.42 432.17 208.5 429C209.58 425.83 210.17 422.17 211 419C211.83 415.83 212.42 412.33 213.5 410C214.58 407.67 216.27 406.08 217.5 405C218.73 403.92 220.9 403.5 220.9 403.5C220.9 403.5 237.7 392 237.7 392Z" fill="#96ff00" stroke="#000" stroke-opacity="0.75" stroke-width="0.55"/>
<path d="M208.5 374.8C209.47 374.72 210.82 375.3 211.5 376.5C212.18 377.7 212.6 380.08 212.6 382C212.6 383.92 212.18 386.77 211.5 388C210.82 389.23 209.5 389.48 208.5 389.4C207.5 389.32 206.1 388.73 205.5 387.5C204.9 386.27 204.87 383.75 204.9 382C204.93 380.25 205.1 378.2 205.7 377C206.3 375.8 207.53 374.88 208.5 374.8Z" fill="#d2ff00" stroke="#000" stroke-opacity="0.75" stroke-width="0.55"/>
<path d="M220.9 380.5C220.9 380.5 219.98 372.33 220.5 370C221.02 367.67 222.08 367.25 224 366.5C225.92 365.75 228.83 365.42 232 365.5C235.17 365.58 239.92 366.08 243 367C246.08 367.92 248.75 369.42 250.5 371C252.25 372.58 252.83 374.92 253.5 376.5C254.17 378.08 254.5 380.5 254.5 380.5C254.5 380.5 220.9 380.5 220.9 380.5Z" fill="#5aff00" stroke="#000" stroke-opacity="0.75" stroke-width="0.55"/>
<path d="M221.5 380.5C221.5 380.5 221.13 374.03 221.8 372C222.47 369.97 223.47 369.08 225.5 368.3C227.53 367.52 230.92 367.22 234 367.3C237.08 367.38 241.25 367.97 244 368.8C246.75 369.63 248.92 370.93 250.5 372.3C252.08 373.67 252.92 375.63 253.5 377C254.08 378.37 254 380.5 254 380.5C254 380.5 221.5 380.5 221.5 380.5Z" fill="#1eff00" stroke="#000" stroke-opacity="0.75" stroke-width="0.55"/>
<path d="M227.5 378.5C226.13 377.5 227.05 374.78 227.8 373.5C228.55 372.22 230.13 371.3 232 370.8C233.87 370.3 236.83 370.22 239 370.5C241.17 370.78 243.58 371.58 245 372.5C246.42 373.42 247.5 374.92 247.5 376C247.5 377.08 246.92 378.42 245 379C243.08 379.58 238.92 379.58 236 379.5C233.08 379.42 228.87 379.5 227.5 378.5Z" fill="#00ff1e" stroke="#000" stroke-opacity="0.75" stroke-width="0.55"/>
<path d="M220.9 403.4C220.9 403.4 215.48 402.73 213 402C210.52 401.27 207.72 400.53 206 399C204.28 397.47 203.43 395.15 202.7 392.8C201.97 390.45 202.17 387.33 201.6 384.9C201.03 382.47 200.62 380.07 199.3 378.2C197.98 376.33 196.5 374.63 193.7 373.7C190.9 372.77 186.25 372.47 182.5 372.6C178.75 372.73 174.25 373.93 171.2 374.5C168.15 375.07 166.68 374.7 164.2 376C161.72 377.3 158.55 379.93 156.3 382.3C154.05 384.67 152.2 387.25 150.7 390.2C149.2 393.15 148.25 396.7 147.3 400C146.35 403.3 145.13 406.5 145 410C144.87 413.5 145.5 417.42 146.5 421C147.5 424.58 149 428.33 151 431.5C153 434.67 155.67 437.58 158.5 440C161.33 442.42 164.75 444.5 168 446C171.25 447.5 174.67 448.75 178 449C181.33 449.25 184.92 448.5 188 447.5C191.08 446.5 194.08 444.92 196.5 443C198.92 441.08 200.83 438.5 202.5 436C204.17 433.5 205.42 430.83 206.5 428C207.58 425.17 208.17 421.83 209 419C209.83 416.17 210.42 413.25 211.5 411C212.58 408.75 213.93 406.77 215.5 405.5C217.07 404.23 220.9 403.4 220.9 403.4Z" fill="#5aff00" stroke="#000" stroke-opacity="0.75" stroke-width="0.55"/>
<path d="M206.24 419.3C206.24 420.49 205.74 421.69 205.49 422.87C205.25 424.04 205.01 425.19 204.76 426.36C204.51 427.54 204.48 428.82 204.02 429.91C203.55 431 202.65 431.92 201.97 432.91C201.28 433.89 200.61 434.84 199.93 435.82C199.24 436.79 198.66 437.88 197.86 438.76C197.07 439.65 196.11 440.42 195.15 441.13C194.19 441.84 193.11 442.38 192.09 443C191.06 443.63 190.09 444.41 189 444.89C187.91 445.37 186.69 445.62 185.52 445.87C184.35 446.12 183.16 446.23 181.97 446.4C180.78 446.58 179.59 446.95 178.4 446.94C177.21 446.93 176.02 446.56 174.84 446.34C173.66 446.12 172.52 445.86 171.35 445.61C170.18 445.37 168.95 445.25 167.81 444.88C166.66 444.5 165.54 443.99 164.5 443.38C163.47 442.76 162.57 441.92 161.6 441.2C160.63 440.47 159.66 439.77 158.69 439.01C157.71 438.26 156.61 437.57 155.77 436.67C154.92 435.77 154.35 434.64 153.62 433.6C152.9 432.57 152.18 431.55 151.43 430.47C150.68 429.4 149.74 428.34 149.1 427.15C148.47 425.96 148.13 424.66 147.63 423.35C147.13 422.04 146.35 420.68 146.11 419.3C145.87 417.92 146.14 416.49 146.18 415.06C146.22 413.63 146.23 412.18 146.38 410.72C146.52 409.26 146.7 407.76 147.04 406.31C147.38 404.85 147.94 403.47 148.41 401.99C148.89 400.5 149.16 398.81 149.87 397.41C150.58 396.01 151.7 394.85 152.67 393.57C153.64 392.28 154.56 390.88 155.68 389.69C156.81 388.5 158.09 387.43 159.42 386.43C160.75 385.42 162.18 384.54 163.65 383.68C165.11 382.82 166.6 381.83 168.21 381.26C169.81 380.69 171.56 380.56 173.26 380.25C174.96 379.93 176.69 379.37 178.4 379.37C180.11 379.37 181.84 379.95 183.54 380.24C185.25 380.53 187.03 380.54 188.63 381.11C190.24 381.68 191.88 382.48 193.16 383.67C194.44 384.85 195.51 386.57 196.34 388.23C197.16 389.89 197.59 391.95 198.11 393.62C198.62 395.29 199.02 396.82 199.44 398.26C199.86 399.7 200.17 401.03 200.61 402.26C201.05 403.48 201.6 404.52 202.09 405.62C202.57 406.73 203.1 407.79 203.52 408.9C203.93 410.01 204.26 411.14 204.58 412.28C204.91 413.42 205.19 414.57 205.47 415.74C205.74 416.91 206.23 418.11 206.24 419.3Z" fill="#1eff00" stroke="#000" stroke-opacity="0.6" stroke-width="0.45"/>
<path d="M203.87 419.3C203.88 420.39 203.4 421.49 203.17 422.56C202.94 423.64 202.72 424.68 202.49 425.76C202.26 426.83 202.21 427.99 201.8 428.99C201.39 430 200.63 430.88 200.03 431.79C199.42 432.7 198.8 433.58 198.17 434.47C197.53 435.36 196.96 436.32 196.22 437.12C195.49 437.93 194.62 438.65 193.75 439.3C192.87 439.96 191.92 440.51 190.97 441.08C190.03 441.65 189.11 442.29 188.09 442.7C187.08 443.12 185.98 443.35 184.91 443.59C183.84 443.82 182.75 443.93 181.66 444.1C180.58 444.27 179.49 444.62 178.4 444.61C177.31 444.6 176.22 444.25 175.14 444.05C174.07 443.84 173.02 443.6 171.95 443.38C170.88 443.16 169.76 443.03 168.71 442.7C167.66 442.37 166.6 441.95 165.64 441.4C164.69 440.84 163.87 440.06 162.98 439.39C162.1 438.72 161.23 438.06 160.34 437.36C159.46 436.66 158.46 436.02 157.7 435.19C156.93 434.36 156.37 433.34 155.73 432.39C155.1 431.43 154.5 430.46 153.86 429.47C153.22 428.47 152.42 427.49 151.88 426.41C151.34 425.32 151.03 424.14 150.6 422.96C150.16 421.78 149.48 420.55 149.28 419.3C149.08 418.05 149.35 416.77 149.41 415.48C149.47 414.2 149.5 412.9 149.64 411.59C149.78 410.29 149.95 408.95 150.26 407.64C150.56 406.33 151.03 405.07 151.46 403.75C151.89 402.42 152.2 400.94 152.86 399.7C153.52 398.46 154.53 397.45 155.41 396.31C156.3 395.18 157.13 393.95 158.15 392.9C159.16 391.85 160.3 390.89 161.5 390.02C162.69 389.15 163.99 388.42 165.3 387.69C166.62 386.95 167.95 386.12 169.38 385.62C170.8 385.12 172.34 385 173.85 384.71C175.35 384.43 176.88 383.91 178.4 383.91C179.92 383.91 181.44 384.45 182.95 384.71C184.46 384.98 186.03 385.01 187.46 385.51C188.88 386 190.33 386.68 191.5 387.68C192.66 388.68 193.67 390.1 194.44 391.51C195.22 392.92 195.65 394.7 196.16 396.15C196.68 397.6 197.08 398.93 197.51 400.19C197.94 401.45 198.3 402.6 198.73 403.7C199.17 404.79 199.69 405.74 200.13 406.75C200.57 407.77 201.02 408.76 201.39 409.78C201.76 410.8 202.05 411.84 202.35 412.88C202.64 413.93 202.9 414.97 203.15 416.04C203.41 417.11 203.87 418.21 203.87 419.3Z" fill="#00ff1e" stroke="#000" stroke-opacity="0.6" stroke-width="0.45"/>
<path d="M201.77 419.3C201.77 420.3 201.33 421.3 201.12 422.29C200.9 423.28 200.69 424.23 200.47 425.21C200.26 426.2 200.19 427.25 199.83 428.18C199.47 429.11 198.85 429.95 198.31 430.79C197.77 431.64 197.19 432.46 196.6 433.27C196.01 434.08 195.45 434.93 194.77 435.67C194.08 436.4 193.3 437.06 192.5 437.68C191.71 438.3 190.86 438.86 189.99 439.37C189.12 439.88 188.23 440.4 187.29 440.76C186.35 441.13 185.35 441.34 184.36 441.55C183.38 441.77 182.39 441.88 181.39 442.04C180.4 442.21 179.4 442.55 178.4 442.54C177.4 442.53 176.4 442.2 175.41 442.01C174.42 441.82 173.46 441.6 172.48 441.39C171.5 441.19 170.48 441.06 169.51 440.77C168.54 440.48 167.54 440.13 166.66 439.64C165.78 439.14 165.02 438.41 164.22 437.78C163.41 437.16 162.62 436.53 161.82 435.88C161.02 435.23 160.11 434.63 159.41 433.87C158.71 433.11 158.18 432.19 157.61 431.3C157.05 430.42 156.56 429.5 156.02 428.57C155.47 427.64 154.81 426.74 154.34 425.75C153.88 424.75 153.61 423.69 153.24 422.61C152.86 421.54 152.25 420.43 152.09 419.3C151.93 418.17 152.2 417.02 152.27 415.86C152.35 414.71 152.4 413.54 152.54 412.37C152.68 411.2 152.84 410 153.11 408.83C153.39 407.65 153.77 406.49 154.17 405.31C154.57 404.13 154.9 402.83 155.51 401.74C156.12 400.64 157.05 399.75 157.85 398.75C158.66 397.76 159.42 396.68 160.33 395.76C161.25 394.83 162.27 393.97 163.34 393.21C164.41 392.46 165.6 391.87 166.78 391.25C167.96 390.63 169.15 389.92 170.41 389.5C171.68 389.07 173.04 388.94 174.37 388.68C175.7 388.42 177.06 387.95 178.4 387.95C179.74 387.95 181.1 388.44 182.43 388.68C183.77 388.93 185.14 388.98 186.41 389.41C187.67 389.84 188.96 390.42 190.02 391.25C191.08 392.09 192.02 393.24 192.76 394.43C193.5 395.62 193.93 397.15 194.44 398.4C194.94 399.65 195.36 400.8 195.8 401.9C196.24 403 196.63 404 197.06 404.98C197.5 405.95 197.99 406.83 198.39 407.76C198.8 408.69 199.17 409.62 199.5 410.56C199.83 411.5 200.1 412.46 200.36 413.42C200.63 414.37 200.87 415.33 201.1 416.31C201.34 417.29 201.77 418.3 201.77 419.3Z" fill="#00ff5a" stroke="#000" stroke-opacity="0.6" stroke-width="0.45"/>
<path d="M200.06 419.3C200.06 420.22 199.65 421.16 199.44 422.07C199.24 422.98 199.04 423.87 198.84 424.78C198.63 425.68 198.55 426.64 198.22 427.51C197.9 428.38 197.39 429.19 196.91 429.99C196.43 430.78 195.89 431.54 195.33 432.29C194.78 433.04 194.22 433.8 193.58 434.48C192.94 435.16 192.23 435.78 191.49 436.36C190.76 436.95 190 437.51 189.19 437.98C188.38 438.45 187.51 438.87 186.64 439.19C185.76 439.51 184.83 439.7 183.92 439.9C183.01 440.1 182.09 440.22 181.17 440.38C180.25 440.54 179.32 440.86 178.4 440.86C177.48 440.85 176.54 440.53 175.63 440.35C174.71 440.17 173.82 439.97 172.91 439.78C172 439.59 171.06 439.46 170.16 439.2C169.25 438.94 168.31 438.66 167.49 438.21C166.66 437.75 165.96 437.06 165.22 436.48C164.47 435.89 163.75 435.3 163.02 434.68C162.28 434.07 161.45 433.51 160.8 432.8C160.16 432.09 159.64 431.25 159.14 430.42C158.63 429.6 158.24 428.71 157.77 427.84C157.31 426.98 156.75 426.13 156.35 425.21C155.95 424.29 155.71 423.32 155.38 422.33C155.05 421.35 154.51 420.33 154.38 419.3C154.25 418.27 154.52 417.22 154.61 416.17C154.69 415.12 154.76 414.07 154.9 413C155.04 411.94 155.19 410.86 155.44 409.79C155.68 408.72 156 407.65 156.37 406.58C156.74 405.51 157.09 404.36 157.67 403.39C158.25 402.42 159.1 401.62 159.84 400.74C160.58 399.85 161.28 398.89 162.11 398.07C162.95 397.25 163.86 396.47 164.84 395.81C165.82 395.15 166.91 394.67 167.98 394.14C169.05 393.61 170.12 393.02 171.26 392.65C172.39 392.28 173.6 392.14 174.79 391.91C175.98 391.67 177.2 391.23 178.4 391.23C179.6 391.23 180.81 391.69 182.01 391.91C183.2 392.14 184.42 392.21 185.56 392.58C186.69 392.96 187.84 393.45 188.82 394.15C189.79 394.86 190.69 395.78 191.39 396.8C192.1 397.81 192.53 399.15 193.03 400.23C193.54 401.31 193.96 402.33 194.41 403.29C194.85 404.26 195.28 405.14 195.71 406.02C196.14 406.9 196.61 407.71 196.98 408.57C197.36 409.43 197.67 410.32 197.97 411.2C198.26 412.07 198.5 412.96 198.75 413.85C198.99 414.74 199.21 415.62 199.43 416.53C199.65 417.44 200.06 418.38 200.06 419.3Z" fill="#00ff96" stroke="#000" stroke-opacity="0.6" stroke-width="0.45"/>
<path d="M198.09 419.3C198.09 420.14 197.7 420.99 197.51 421.82C197.32 422.64 197.14 423.45 196.95 424.27C196.76 425.09 196.65 425.95 196.37 426.75C196.1 427.54 195.71 428.32 195.3 429.05C194.88 429.79 194.38 430.49 193.87 431.17C193.35 431.84 192.81 432.5 192.22 433.12C191.63 433.73 190.98 434.3 190.33 434.84C189.67 435.39 189 435.96 188.26 436.38C187.52 436.8 186.69 437.1 185.88 437.37C185.07 437.63 184.24 437.81 183.41 438C182.58 438.18 181.76 438.3 180.92 438.45C180.09 438.61 179.24 438.92 178.4 438.92C177.56 438.91 176.71 438.61 175.88 438.44C175.05 438.27 174.24 438.09 173.41 437.92C172.58 437.74 171.74 437.61 170.91 437.39C170.08 437.16 169.19 436.96 168.44 436.56C167.68 436.15 167.05 435.51 166.38 434.97C165.7 434.43 165.06 433.87 164.4 433.3C163.74 432.74 162.99 432.22 162.41 431.57C161.83 430.92 161.33 430.17 160.9 429.41C160.46 428.65 160.17 427.81 159.8 427.01C159.42 426.2 158.98 425.42 158.66 424.59C158.34 423.76 158.12 422.89 157.85 422.01C157.58 421.12 157.11 420.21 157.02 419.3C156.92 418.39 157.19 417.45 157.3 416.52C157.4 415.59 157.48 414.67 157.62 413.73C157.75 412.79 157.91 411.85 158.12 410.9C158.33 409.95 158.57 408.98 158.91 408.04C159.24 407.11 159.62 406.14 160.16 405.3C160.69 404.46 161.46 403.78 162.13 403.03C162.79 402.27 163.42 401.45 164.16 400.75C164.9 400.04 165.7 399.35 166.57 398.81C167.43 398.26 168.42 397.9 169.36 397.48C170.3 397.06 171.25 396.59 172.23 396.28C173.22 395.97 174.26 395.84 175.28 395.63C176.31 395.41 177.36 395.01 178.4 395.01C179.44 395.01 180.49 395.43 181.52 395.64C182.55 395.84 183.59 395.94 184.58 396.25C185.56 396.56 186.56 396.95 187.43 397.5C188.3 398.05 189.15 398.72 189.81 399.53C190.48 400.34 190.92 401.44 191.42 402.34C191.91 403.23 192.35 404.08 192.8 404.9C193.26 405.71 193.72 406.45 194.14 407.22C194.57 407.99 195.01 408.73 195.35 409.51C195.69 410.3 195.94 411.12 196.19 411.93C196.45 412.74 196.67 413.54 196.89 414.35C197.1 415.16 197.3 415.96 197.51 416.78C197.71 417.61 198.09 418.46 198.09 419.3Z" fill="#00ffd2" stroke="#000" stroke-opacity="0.6" stroke-width="0.45"/>
<path d="M196.65 419.3C196.65 420.08 196.28 420.86 196.1 421.63C195.91 422.4 195.74 423.14 195.56 423.9C195.38 424.66 195.26 425.44 195.02 426.18C194.78 426.93 194.48 427.68 194.11 428.37C193.74 429.06 193.27 429.72 192.79 430.34C192.31 430.97 191.77 431.55 191.21 432.11C190.66 432.68 190.07 433.21 189.47 433.73C188.86 434.24 188.27 434.82 187.58 435.2C186.89 435.59 186.09 435.8 185.33 436.03C184.57 436.26 183.8 436.43 183.04 436.6C182.27 436.77 181.51 436.89 180.74 437.04C179.96 437.19 179.18 437.49 178.4 437.49C177.62 437.49 176.84 437.19 176.06 437.04C175.29 436.88 174.55 436.71 173.78 436.55C173.01 436.39 172.23 436.26 171.46 436.06C170.68 435.86 169.84 435.71 169.14 435.35C168.43 434.98 167.84 434.37 167.22 433.86C166.6 433.36 166.02 432.82 165.41 432.29C164.8 431.76 164.13 431.27 163.59 430.66C163.05 430.06 162.57 429.37 162.19 428.66C161.8 427.95 161.59 427.15 161.28 426.39C160.98 425.64 160.63 424.91 160.36 424.14C160.09 423.36 159.9 422.57 159.66 421.77C159.43 420.96 159.02 420.13 158.95 419.3C158.89 418.47 159.16 417.62 159.27 416.78C159.38 415.94 159.48 415.11 159.61 414.27C159.75 413.42 159.89 412.57 160.09 411.71C160.28 410.86 160.45 409.95 160.77 409.12C161.08 408.28 161.47 407.44 161.98 406.7C162.49 405.96 163.19 405.37 163.8 404.7C164.42 404.04 165 403.33 165.67 402.71C166.34 402.09 167.05 401.47 167.84 401C168.62 400.54 169.52 400.27 170.37 399.92C171.23 399.58 172.07 399.21 172.95 398.95C173.82 398.69 174.73 398.55 175.64 398.35C176.55 398.16 177.48 397.79 178.4 397.79C179.32 397.79 180.25 398.18 181.16 398.37C182.07 398.56 182.98 398.67 183.86 398.93C184.73 399.2 185.61 399.52 186.41 399.95C187.21 400.39 188.02 400.88 188.66 401.53C189.29 402.19 189.73 403.13 190.23 403.89C190.72 404.64 191.16 405.37 191.63 406.07C192.09 406.78 192.57 407.41 193 408.1C193.42 408.79 193.84 409.47 194.16 410.2C194.47 410.93 194.67 411.72 194.89 412.47C195.12 413.22 195.32 413.96 195.52 414.71C195.72 415.46 195.9 416.21 196.09 416.97C196.28 417.74 196.65 418.52 196.65 419.3Z" fill="#00f0ff" stroke="#000" stroke-opacity="0.6" stroke-width="0.45"/>
<path d="M195.46 419.3C195.46 420.03 195.11 420.76 194.94 421.48C194.76 422.19 194.6 422.89 194.42 423.59C194.25 424.3 194.12 425.02 193.91 425.72C193.7 426.43 193.48 427.15 193.14 427.81C192.81 428.47 192.37 429.09 191.91 429.67C191.45 430.25 190.92 430.77 190.39 431.29C189.87 431.82 189.33 432.32 188.77 432.81C188.21 433.3 187.68 433.89 187.03 434.24C186.38 434.6 185.59 434.74 184.88 434.94C184.16 435.14 183.44 435.3 182.73 435.46C182.01 435.61 181.31 435.74 180.58 435.89C179.86 436.03 179.13 436.33 178.4 436.33C177.67 436.33 176.94 436.04 176.22 435.89C175.5 435.74 174.79 435.59 174.08 435.43C173.36 435.28 172.64 435.15 171.91 434.97C171.18 434.79 170.37 434.69 169.71 434.36C169.04 434.02 168.5 433.44 167.92 432.96C167.34 432.48 166.8 431.97 166.24 431.46C165.68 430.95 165.05 430.49 164.55 429.92C164.05 429.36 163.59 428.72 163.24 428.05C162.9 427.38 162.75 426.6 162.5 425.89C162.25 425.17 161.97 424.48 161.74 423.76C161.52 423.04 161.35 422.32 161.15 421.57C160.94 420.83 160.58 420.06 160.53 419.3C160.49 418.54 160.76 417.76 160.88 416.99C161 416.23 161.11 415.47 161.24 414.7C161.38 413.93 161.52 413.16 161.69 412.38C161.87 411.6 161.99 410.75 162.29 410C162.59 409.24 162.99 408.5 163.47 407.85C163.95 407.19 164.6 406.66 165.18 406.08C165.75 405.49 166.28 404.86 166.9 404.31C167.52 403.77 168.16 403.2 168.87 402.8C169.59 402.4 170.43 402.2 171.2 401.93C171.98 401.65 172.74 401.35 173.53 401.13C174.32 400.91 175.12 400.76 175.94 400.59C176.75 400.41 177.58 400.06 178.4 400.06C179.22 400.06 180.05 400.42 180.86 400.6C181.67 400.78 182.48 400.9 183.27 401.13C184.06 401.36 184.84 401.62 185.58 401.96C186.32 402.3 187.1 402.64 187.71 403.17C188.32 403.71 188.76 404.51 189.26 405.15C189.75 405.79 190.2 406.43 190.66 407.04C191.13 407.65 191.64 408.2 192.06 408.82C192.48 409.44 192.89 410.08 193.18 410.77C193.48 411.45 193.63 412.2 193.83 412.91C194.04 413.62 194.22 414.31 194.4 415.01C194.59 415.71 194.76 416.41 194.94 417.12C195.11 417.84 195.46 418.57 195.46 419.3Z" fill="#00b4ff" stroke="#000" stroke-opacity="0.6" stroke-width="0.45"/>
<path d="M194.55 419.3C194.54 419.99 194.2 420.68 194.04 421.36C193.87 422.03 193.71 422.69 193.54 423.36C193.38 424.03 193.24 424.7 193.05 425.37C192.85 426.04 192.69 426.75 192.39 427.38C192.09 428.01 191.66 428.59 191.23 429.14C190.79 429.69 190.26 430.16 189.76 430.66C189.26 431.15 188.75 431.63 188.22 432.1C187.7 432.58 187.21 433.16 186.59 433.49C185.98 433.82 185.21 433.91 184.53 434.09C183.84 434.27 183.17 434.42 182.49 434.57C181.81 434.72 181.15 434.85 180.47 434.99C179.78 435.13 179.09 435.42 178.4 435.42C177.71 435.42 177.02 435.14 176.33 435C175.65 434.85 174.99 434.71 174.31 434.56C173.63 434.42 172.95 434.29 172.26 434.13C171.57 433.96 170.79 433.9 170.15 433.59C169.52 433.27 169 432.72 168.46 432.26C167.91 431.8 167.41 431.3 166.88 430.82C166.36 430.33 165.77 429.89 165.3 429.35C164.83 428.81 164.37 428.22 164.06 427.58C163.75 426.94 163.65 426.18 163.44 425.5C163.23 424.81 163.01 424.15 162.82 423.47C162.63 422.79 162.48 422.12 162.3 421.42C162.12 420.72 161.79 420.01 161.77 419.3C161.74 418.59 162.01 417.87 162.14 417.16C162.26 416.45 162.38 415.75 162.51 415.04C162.65 414.33 162.79 413.63 162.95 412.9C163.11 412.17 163.19 411.38 163.47 410.68C163.76 409.99 164.17 409.33 164.63 408.74C165.1 408.15 165.71 407.67 166.24 407.14C166.78 406.61 167.29 406.05 167.86 405.56C168.43 405.07 169.01 404.54 169.68 404.2C170.34 403.85 171.13 403.71 171.85 403.48C172.57 403.26 173.27 403.02 173.99 402.82C174.7 402.63 175.43 402.49 176.16 402.32C176.9 402.16 177.66 401.82 178.4 401.82C179.14 401.83 179.9 402.17 180.63 402.34C181.37 402.51 182.09 402.64 182.81 402.84C183.53 403.04 184.24 403.26 184.93 403.52C185.63 403.79 186.38 404.01 186.97 404.45C187.57 404.88 188.01 405.58 188.5 406.14C188.99 406.69 189.44 407.25 189.91 407.79C190.38 408.33 190.91 408.81 191.33 409.38C191.74 409.95 192.14 410.56 192.42 411.21C192.7 411.85 192.82 412.58 193 413.25C193.19 413.92 193.36 414.58 193.53 415.25C193.7 415.91 193.87 416.57 194.04 417.24C194.21 417.92 194.55 418.61 194.55 419.3Z" fill="#0078ff" stroke="#000" stroke-opacity="0.6" stroke-width="0.45"/>
<path d="M193.76 419.3C193.76 419.95 193.43 420.61 193.26 421.26C193.1 421.9 192.95 422.52 192.79 423.15C192.63 423.79 192.48 424.42 192.31 425.06C192.13 425.7 192.02 426.4 191.74 427C191.47 427.61 191.06 428.17 190.64 428.69C190.22 429.21 189.69 429.64 189.21 430.11C188.73 430.58 188.25 431.04 187.76 431.49C187.26 431.95 186.81 432.54 186.22 432.85C185.64 433.16 184.88 433.2 184.22 433.36C183.57 433.52 182.93 433.66 182.29 433.8C181.64 433.95 181.01 434.08 180.36 434.22C179.72 434.36 179.06 434.65 178.4 434.65C177.74 434.65 177.08 434.37 176.43 434.23C175.79 434.09 175.16 433.96 174.51 433.82C173.86 433.68 173.22 433.55 172.56 433.4C171.9 433.25 171.14 433.22 170.53 432.93C169.93 432.63 169.44 432.1 168.92 431.66C168.4 431.21 167.93 430.73 167.44 430.26C166.94 429.8 166.39 429.37 165.95 428.86C165.5 428.34 165.05 427.79 164.77 427.17C164.48 426.56 164.42 425.82 164.25 425.16C164.08 424.5 163.91 423.87 163.75 423.23C163.59 422.58 163.44 421.94 163.29 421.29C163.13 420.64 162.83 419.96 162.82 419.3C162.81 418.64 163.08 417.96 163.21 417.3C163.34 416.64 163.47 415.99 163.6 415.33C163.74 414.67 163.87 414.02 164.02 413.34C164.17 412.67 164.22 411.91 164.49 411.27C164.76 410.63 165.18 410.04 165.63 409.5C166.07 408.97 166.65 408.54 167.16 408.06C167.67 407.58 168.14 407.08 168.68 406.63C169.21 406.19 169.75 405.7 170.37 405.39C170.99 405.09 171.73 405.01 172.4 404.82C173.07 404.63 173.72 404.45 174.37 404.28C175.03 404.11 175.69 403.97 176.36 403.81C177.03 403.65 177.72 403.34 178.4 403.34C179.08 403.34 179.77 403.67 180.44 403.83C181.11 403.99 181.76 404.13 182.42 404.3C183.08 404.48 183.73 404.66 184.38 404.86C185.03 405.07 185.76 405.19 186.34 405.54C186.92 405.9 187.37 406.5 187.85 406.98C188.34 407.46 188.8 407.95 189.27 408.43C189.75 408.91 190.28 409.34 190.7 409.86C191.12 410.39 191.5 410.97 191.77 411.58C192.04 412.2 192.13 412.9 192.3 413.54C192.47 414.19 192.63 414.81 192.79 415.44C192.95 416.08 193.11 416.7 193.27 417.34C193.43 417.99 193.76 418.65 193.76 419.3Z" fill="#003cff" stroke="#000" stroke-opacity="0.6" stroke-width="0.45"/>
<path d="M193.1 419.3C193.1 419.92 192.78 420.56 192.62 421.17C192.46 421.79 192.31 422.38 192.16 422.99C192 423.59 191.85 424.19 191.69 424.8C191.53 425.42 191.46 426.11 191.21 426.69C190.95 427.28 190.56 427.82 190.15 428.32C189.74 428.81 189.22 429.21 188.76 429.66C188.29 430.1 187.84 430.54 187.37 430.99C186.89 431.43 186.48 432.02 185.92 432.32C185.35 432.61 184.61 432.61 183.97 432.75C183.34 432.9 182.73 433.03 182.12 433.17C181.5 433.31 180.9 433.44 180.28 433.58C179.66 433.72 179.03 434 178.4 434C177.77 434 177.14 433.73 176.52 433.6C175.9 433.46 175.29 433.33 174.68 433.2C174.06 433.07 173.45 432.93 172.81 432.8C172.17 432.66 171.43 432.65 170.85 432.38C170.27 432.1 169.8 431.58 169.31 431.15C168.81 430.72 168.37 430.25 167.9 429.8C167.43 429.35 166.91 428.94 166.48 428.44C166.06 427.95 165.61 427.43 165.35 426.83C165.09 426.24 165.06 425.52 164.93 424.88C164.79 424.25 164.65 423.64 164.52 423.02C164.38 422.4 164.25 421.8 164.11 421.18C163.98 420.56 163.7 419.93 163.7 419.3C163.7 418.67 163.97 418.04 164.11 417.42C164.24 416.8 164.37 416.2 164.51 415.58C164.64 414.96 164.77 414.35 164.91 413.71C165.05 413.08 165.08 412.35 165.34 411.76C165.59 411.16 166.03 410.63 166.46 410.14C166.89 409.65 167.44 409.26 167.92 408.82C168.41 408.39 168.86 407.93 169.36 407.52C169.87 407.12 170.36 406.66 170.95 406.39C171.53 406.13 172.24 406.08 172.86 405.93C173.49 405.78 174.09 405.64 174.7 405.49C175.31 405.34 175.91 405.2 176.52 405.05C177.14 404.9 177.78 404.6 178.4 404.6C179.02 404.6 179.66 404.91 180.27 405.07C180.89 405.22 181.48 405.37 182.09 405.52C182.7 405.67 183.3 405.82 183.92 405.98C184.54 406.13 185.25 406.17 185.82 406.45C186.38 406.74 186.83 407.26 187.31 407.68C187.8 408.1 188.26 408.53 188.74 408.96C189.21 409.39 189.76 409.77 190.18 410.26C190.59 410.75 190.97 411.31 191.23 411.89C191.48 412.48 191.55 413.17 191.71 413.79C191.86 414.41 192.01 415 192.17 415.61C192.32 416.22 192.47 416.81 192.63 417.43C192.78 418.04 193.1 418.68 193.1 419.3Z" fill="#0000ff" stroke="#000" stroke-opacity="0.6" stroke-width="0.45"/>
<ellipse cx="216.2" cy="396.5" rx="5.3" ry="5.8" fill="#1eff00" stroke="#000" stroke-opacity="0.6" stroke-width="0.45"/>
<ellipse cx="216.3" cy="396.5" rx="4.2" ry="4.6" fill="#00ff1e" stroke="#000" stroke-opacity="0.6" stroke-width="0.45"/>
<ellipse cx="216.4" cy="396.5" rx="3.2" ry="3.5" fill="#00ff5a" stroke="#000" stroke-opacity="0.6" stroke-width="0.45"/>
<ellipse cx="216.5" cy="396.5" rx="2.3" ry="2.5" fill="#00ffd2" stroke="#000" stroke-opacity="0.6" stroke-width="0.45"/>
<ellipse cx="216.5" cy="396.5" rx="1.4" ry="1.5" fill="#00b4ff" stroke="#000" stroke-opacity="0.6" stroke-width="0.45"/>
<path d="M229.2 403.6C229.2 403.6 229.55 408.33 230.3 410.5C231.05 412.67 232.2 414.98 233.7 416.6C235.2 418.22 237.05 419.42 239.3 420.2C241.55 420.98 244.77 421.48 247.2 421.3C249.63 421.12 252.12 420.22 253.9 419.1C255.68 417.98 257.15 416.28 257.9 414.6C258.65 412.92 258.63 410.68 258.4 409C258.17 407.32 257.15 405.4 256.5 404.5C255.85 403.6 254.5 403.6 254.5 403.6C254.5 403.6 229.2 403.6 229.2 403.6Z" fill="#ff0000" stroke="#000" stroke-opacity="0.75" stroke-width="0.55"/>
<rect x="220.9" y="381.3" width="33.6" height="22.2" fill="#fff"/>
</g>
<path d="M45.6 282.1V514H301.1" fill="none" stroke="#000" stroke-width="1.3"/>
<path d="M45.9 514V508M61.8 514V510.5M45.6 503.78H49.1M77.7 514V510.5M45.6 487.85H49.1M93.6 514V510.5M45.6 471.93H49.1M109.5 514V508M45.6 456H51.6M125.4 514V510.5M45.6 440.08H49.1M141.3 514V510.5M45.6 424.15H49.1M157.2 514V510.5M45.6 408.23H49.1M173.1 514V508M45.6 392.3H51.6M189 514V510.5M45.6 376.38H49.1M204.9 514V510.5M45.6 360.45H49.1M220.8 514V510.5M45.6 344.52H49.1M236.7 514V508M45.6 328.6H51.6M252.6 514V510.5M45.6 312.68H49.1M268.5 514V510.5M45.6 296.75H49.1M284.4 514V510.5M300.3 514V508" fill="none" stroke="#000" stroke-width="1"/>
<g font-family='"Liberation Serif", serif' font-weight="bold" fill="#000" stroke="#000" stroke-width="0.2">
<text x="45.9" y="523.5" text-anchor="middle" font-size="9.2">-0.4</text>
<text x="109.5" y="523.5" text-anchor="middle" font-size="9.2">-0.2</text>
<text x="42.6" y="459" text-anchor="end" font-size="9.2">-0.2</text>
<text x="173.1" y="523.5" text-anchor="middle" font-size="9.2">0</text>
<text x="42.6" y="395.3" text-anchor="end" font-size="9.2">0</text>
<text x="236.7" y="523.5" text-anchor="middle" font-size="9.2">0.2</text>
<text x="42.6" y="331.6" text-anchor="end" font-size="9.2">0.2</text>
<text x="173.4" y="533.5" text-anchor="middle" font-size="11">X</text>
<text transform="translate(32.2 397.7) rotate(-90)" text-anchor="middle" font-size="11">Y</text>
<text x="-0.8" y="329" font-size="16" font-weight="bold">(c)</text>
</g>
<rect x="302.3" y="323.4" width="11.5" height="4.51" fill="#ff0000"/>
<rect x="302.3" y="327.91" width="11.5" height="9.02" fill="#ff3c00"/>
<rect x="302.3" y="336.94" width="11.5" height="9.02" fill="#ff7800"/>
<rect x="302.3" y="345.96" width="11.5" height="9.02" fill="#ffb400"/>
<rect x="302.3" y="354.98" width="11.5" height="9.02" fill="#fff000"/>
<rect x="302.3" y="364.01" width="11.5" height="9.02" fill="#d2ff00"/>
<rect x="302.3" y="373.03" width="11.5" height="9.02" fill="#96ff00"/>
<rect x="302.3" y="382.05" width="11.5" height="9.02" fill="#5aff00"/>
<rect x="302.3" y="391.08" width="11.5" height="9.02" fill="#1eff00"/>
<rect x="302.3" y="400.1" width="11.5" height="9.02" fill="#00ff1e"/>
<rect x="302.3" y="409.12" width="11.5" height="9.02" fill="#00ff5a"/>
<rect x="302.3" y="418.15" width="11.5" height="9.02" fill="#00ff96"/>
<rect x="302.3" y="427.17" width="11.5" height="9.02" fill="#00ffd2"/>
<rect x="302.3" y="436.19" width="11.5" height="9.02" fill="#00f0ff"/>
<rect x="302.3" y="445.22" width="11.5" height="9.02" fill="#00b4ff"/>
<rect x="302.3" y="454.24" width="11.5" height="9.02" fill="#0078ff"/>
<rect x="302.3" y="463.26" width="11.5" height="9.02" fill="#003cff"/>
<rect x="302.3" y="472.29" width="11.5" height="4.51" fill="#0000ff"/>
<path d="M302.3 327.91H313.8M302.3 336.94H313.8M302.3 345.96H313.8M302.3 354.98H313.8M302.3 364.01H313.8M302.3 373.03H313.8M302.3 382.05H313.8M302.3 391.08H313.8M302.3 400.1H313.8M302.3 409.12H313.8M302.3 418.15H313.8M302.3 427.17H313.8M302.3 436.19H313.8M302.3 445.22H313.8M302.3 454.24H313.8M302.3 463.26H313.8M302.3 472.29H313.8" stroke="#000" stroke-opacity="0.7" stroke-width="0.6"/>
<rect x="302.3" y="323.4" width="11.5" height="153.4" fill="none" stroke="#000" stroke-opacity="0.5" stroke-width="0.5"/>
<g font-family='"Liberation Serif", serif' font-weight="bold" fill="#000" stroke="#000" stroke-width="0.25" font-size="7.2">
<text x="335.3" y="331.51" text-anchor="end">1.80</text>
<text x="335.3" y="340.54" text-anchor="end">1.60</text>
<text x="335.3" y="349.56" text-anchor="end">1.40</text>
<text x="335.3" y="358.58" text-anchor="end">1.20</text>
<text x="335.3" y="367.61" text-anchor="end">1.00</text>
<text x="335.3" y="376.63" text-anchor="end">0.80</text>
<text x="335.3" y="385.65" text-anchor="end">0.60</text>
<text x="335.3" y="394.68" text-anchor="end">0.40</text>
<text x="335.3" y="403.7" text-anchor="end">0.20</text>
<text x="335.3" y="412.72" text-anchor="end">0.00</text>
<text x="335.3" y="421.75" text-anchor="end">-0.20</text>
<text x="335.3" y="430.77" text-anchor="end">-0.40</text>
<text x="335.3" y="439.79" text-anchor="end">-0.60</text>
<text x="335.3" y="448.82" text-anchor="end">-0.80</text>
<text x="335.3" y="457.84" text-anchor="end">-1.00</text>
<text x="335.3" y="466.86" text-anchor="end">-1.20</text>
<text x="335.3" y="475.89" text-anchor="end">-1.40</text>
<text x="322.9" y="318.9" font-size="7.6">Cp</text>
</g>
<clipPath id="clipd"><rect x="387.7" y="279.2" width="257.8" height="234"/></clipPath>
<g clip-path="url(#clipd)">
<rect x="387.7" y="279.2" width="257.8" height="234" fill="#ff0000"/>
<path d="M415.1 399C415.28 394.67 415.45 387.88 416.2 382.5C416.95 377.12 418.1 371.95 419.6 366.7C421.1 361.45 422.77 356.05 425.2 351C427.63 345.95 430.45 341.28 434.2 336.4C437.95 331.52 442.82 326.2 447.7 321.7C452.58 317.2 457.87 312.95 463.5 309.4C469.13 305.85 475.5 302.85 481.5 300.4C487.5 297.95 493.92 296.05 499.5 294.7C505.08 293.35 509.42 292.58 515 292.3C520.58 292.02 526.63 292.22 533 293C539.37 293.78 546.2 295.6 553.2 297C560.2 298.4 569.12 299.73 575 301.4C580.88 303.07 584 304.57 588.5 307C593 309.43 597.5 312.62 602 316C606.5 319.38 611.37 323.17 615.5 327.3C619.63 331.43 623.42 335.55 626.8 340.8C630.18 346.05 633.55 352.8 635.8 358.8C638.05 364.8 639.25 369.93 640.3 376.8C641.35 383.67 642.18 393.97 642.1 400C642.02 406.03 641.12 407.08 639.8 413C638.48 418.92 636.25 428.75 634.2 435.5C632.15 442.25 630.12 447.5 627.5 453.5C624.88 459.5 621.5 466.25 618.5 471.5C615.5 476.75 612.5 480.88 609.5 485C606.5 489.12 603.5 492.45 600.5 496.2C597.5 499.95 593.93 504.5 591.5 507.5C589.07 510.5 587.48 511.78 585.9 514.2C584.32 516.62 602.15 520.7 582 522C561.85 523.3 485.5 523.67 465 522C444.5 520.33 461.5 515.92 459 512C456.5 508.08 453.38 503.38 450 498.5C446.62 493.62 442.27 488.7 438.7 482.7C435.13 476.7 431.4 468.87 428.6 462.5C425.8 456.13 423.77 450.5 421.9 444.5C420.03 438.5 418.53 432.5 417.4 426.5C416.27 420.5 415.48 413.08 415.1 408.5C414.72 403.92 414.92 403.33 415.1 399Z" fill="#ff3c00" stroke="#000" stroke-opacity="0.75" stroke-width="0.55"/>
<path d="M578.5 395C578.5 395 595.2 406.1 595.2 406.1C595.2 406.1 596.17 405.92 596.8 405.4C597.43 404.88 597.8 404.07 599 403C600.2 401.93 602.17 400.5 604 399C605.83 397.5 608.42 395.83 610 394C611.58 392.17 612.57 390.17 613.5 388C614.43 385.83 615.18 383.5 615.6 381C616.02 378.5 616.13 375.25 616 373C615.87 370.75 615.72 369.92 614.8 367.5C613.88 365.08 612.55 361.67 610.5 358.5C608.45 355.33 605.42 351.33 602.5 348.5C599.58 345.67 596.55 343.67 593 341.5C589.45 339.33 585.35 337.27 581.2 335.5C577.05 333.73 572.47 332 568.1 330.9C563.73 329.8 560.1 329.38 555 328.9C549.9 328.42 544.17 328.25 537.5 328C530.83 327.75 521.33 327.13 515 327.4C508.67 327.67 505.08 328.3 499.5 329.6C493.92 330.9 486.75 332.95 481.5 335.2C476.25 337.45 471.75 340.1 468 343.1C464.25 346.1 461.43 349.27 459 353.2C456.57 357.13 454.9 361.82 453.4 366.7C451.9 371.58 450.82 377.12 450 382.5C449.18 387.88 448.88 393.92 448.5 399C448.12 404.08 447.45 407.67 447.7 413C447.95 418.33 448.87 425 450 431C451.13 437 452.25 443.38 454.5 449C456.75 454.62 459.75 459.45 463.5 464.7C467.25 469.95 472.5 476 477 480.5C481.5 485 486 488.52 490.5 491.7C495 494.88 499.92 497.72 504 499.6C508.08 501.48 510.17 502.82 515 503C519.83 503.18 527 502.2 533 500.7C539 499.2 545.75 496.62 551 494C556.25 491.38 560.38 488.75 564.5 485C568.62 481.25 572.7 476.38 575.7 471.5C578.7 466.62 581.18 460.95 582.5 455.7C583.82 450.45 583.98 444.5 583.6 440C583.22 435.5 581.7 432.08 580.2 428.7C578.7 425.32 576.28 422.32 574.6 419.7C572.92 417.08 571.08 415.03 570.1 413C569.12 410.97 568.97 408.65 568.7 407.5C568.43 406.35 568.5 406.1 568.5 406.1C568.5 406.1 578.5 395 578.5 395Z" fill="#ff7800" stroke="#000" stroke-opacity="0.75" stroke-width="0.55"/>
<path d="M578.5 395C578.5 395 595 390.5 595 390.5C595 390.5 599.15 390.28 600.9 389.2C602.65 388.12 604.52 385.97 605.5 384C606.48 382.03 606.8 380.02 606.8 377.4C606.8 374.78 606.48 371.13 605.5 368.3C604.52 365.47 603.2 362.82 600.9 360.4C598.6 357.98 594.98 355.67 591.7 353.8C588.42 351.93 585.13 350.5 581.2 349.2C577.27 347.9 572.47 346.65 568.1 346C563.73 345.35 560.85 345.6 555 345.3C549.15 345 539.67 344.18 533 344.2C526.33 344.22 520.58 344.65 515 345.4C509.42 346.15 504.33 347.02 499.5 348.7C494.67 350.38 489.95 352.87 486 355.5C482.05 358.13 478.62 361.13 475.8 364.5C472.98 367.87 470.78 371.58 469.1 375.7C467.42 379.82 466.3 385.32 465.7 389.2C465.1 393.08 465.5 395.03 465.5 399C465.5 402.97 465.28 406.92 465.7 413C466.12 419.08 466.87 429.13 468 435.5C469.13 441.87 470.25 445.95 472.5 451.2C474.75 456.45 477.75 462.12 481.5 467C485.25 471.88 490.5 477.13 495 480.5C499.5 483.87 504.83 485.78 508.5 487.2C512.17 488.62 512.92 489 517 489C521.08 489 527.72 488.43 533 487.2C538.28 485.97 544.2 484.03 548.7 481.6C553.2 479.17 556.97 476.17 560 472.6C563.03 469.03 565.43 464.52 566.9 460.2C568.37 455.88 568.65 451.2 568.8 446.7C568.95 442.2 568.43 437.32 567.8 433.2C567.17 429.08 565.73 425.37 565 422C564.27 418.63 563.68 415.43 563.4 413C563.12 410.57 563.37 408.55 563.3 407.4C563.23 406.25 563 406.1 563 406.1C563 406.1 578.5 395 578.5 395Z" fill="#ffb400" stroke="#000" stroke-opacity="0.75" stroke-width="0.55"/>
<path d="M578.5 395C578.5 395 595 387.7 595 387.7C595 387.7 597.32 387.43 598.3 386.6C599.28 385.77 600.37 384.45 600.9 382.7C601.43 380.95 601.93 378.5 601.5 376.1C601.07 373.7 599.93 370.7 598.3 368.3C596.67 365.9 594.55 363.57 591.7 361.7C588.85 359.83 585.13 358.3 581.2 357.1C577.27 355.9 572.47 354.93 568.1 354.5C563.73 354.07 560.85 354.33 555 354.5C549.15 354.67 539.33 354.62 533 355.5C526.67 356.38 522.22 358.5 517 359.8C511.78 361.1 506.12 361.4 501.7 363.3C497.28 365.2 493.5 368.38 490.5 371.2C487.5 374.02 485.53 376.82 483.7 380.2C481.87 383.58 480.53 387.87 479.5 391.5C478.47 395.13 478 398.42 477.5 402C477 405.58 476.5 408.17 476.5 413C476.5 417.83 476.67 425.38 477.5 431C478.33 436.62 479.33 441.45 481.5 446.7C483.67 451.95 487.13 458 490.5 462.5C493.87 467 497.62 470.9 501.7 473.7C505.78 476.5 510.17 478.55 515 479.3C519.83 480.05 525.83 479.32 530.7 478.2C535.57 477.08 540.32 475.08 544.2 472.6C548.08 470.12 551.65 466.67 554 463.3C556.35 459.93 557.3 456.47 558.3 452.4C559.3 448.33 559.83 443.22 560 438.9C560.17 434.58 559.5 430.07 559.3 426.5C559.1 422.93 558.65 420.33 558.8 417.5C558.95 414.67 559.7 411.4 560.2 409.5C560.7 407.6 561.8 406.1 561.8 406.1C561.8 406.1 578.5 395 578.5 395Z" fill="#fff000" stroke="#000" stroke-opacity="0.75" stroke-width="0.55"/>
<path d="M578.5 395C578.5 395 595 386.5 595 386.5C595 386.5 597.63 385.92 598.3 385C598.97 384.08 599.13 382.75 599 381C598.87 379.25 598.83 376.67 597.5 374.5C596.17 372.33 593.75 369.83 591 368C588.25 366.17 584.83 364.42 581 363.5C577.17 362.58 572.33 362.5 568 362.5C563.67 362.5 559.67 362.83 555 363.5C550.33 364.17 544.8 365.58 540 366.5C535.2 367.42 530.37 368.33 526.2 369C522.03 369.67 518.7 369.83 515 370.5C511.3 371.17 507.33 371.38 504 373C500.67 374.62 497.45 377.5 495 380.2C492.55 382.9 490.88 386.4 489.3 389.2C487.72 392 486.55 393.03 485.5 397C484.45 400.97 483.25 407.67 483 413C482.75 418.33 483.13 423.75 484 429C484.87 434.25 486 439.3 488.2 444.5C490.4 449.7 493.82 456.08 497.2 460.2C500.58 464.32 505.2 467.13 508.5 469.2C511.8 471.27 513.67 472.22 517 472.6C520.33 472.98 524.52 472.63 528.5 471.5C532.48 470.37 537.6 468.23 540.9 465.8C544.2 463.37 546.32 460.27 548.3 456.9C550.28 453.53 551.92 449.55 552.8 445.6C553.68 441.65 553.48 437.13 553.6 433.2C553.72 429.27 553.18 425.37 553.5 422C553.82 418.63 554.65 415.5 555.5 413C556.35 410.5 557.55 408.25 558.6 407C559.65 405.75 561.8 405.5 561.8 405.5C561.8 405.5 578.5 395 578.5 395Z" fill="#d2ff00" stroke="#000" stroke-opacity="0.75" stroke-width="0.55"/>
<path d="M578.5 395C578.5 395 595.1 384.9 595.1 384.9C595.1 384.9 596.27 385.08 596.7 384.4C597.13 383.72 597.88 382.37 597.7 380.8C597.52 379.23 596.98 376.8 595.6 375C594.22 373.2 591.8 371.27 589.4 370C587 368.73 584.28 367.83 581.2 367.4C578.12 366.97 574.33 367.07 570.9 367.4C567.47 367.73 563.68 368.38 560.6 369.4C557.52 370.42 554.83 372.15 552.4 373.5C549.97 374.85 548.4 376.42 546 377.5C543.6 378.58 540.67 379.5 538 380C535.33 380.5 533 380.33 530 380.5C527 380.67 523.97 380.82 520 381C516.03 381.18 509.62 380.6 506.2 381.6C502.78 382.6 501.37 384.98 499.5 387C497.63 389.02 496.25 391.37 495 393.7C493.75 396.03 492.92 397.45 492 401C491.08 404.55 490.17 409 489.5 415C488.83 421 487.58 430.83 488 437C488.42 443.17 489.67 447.67 492 452C494.33 456.33 497.33 460.25 502 463C506.67 465.75 514.67 468 520 468.5C525.33 469 530.08 467.67 534 466C537.92 464.33 541.33 461.33 543.5 458.5C545.67 455.67 546.2 452.58 547 449C547.8 445.42 547.97 441.17 548.3 437C548.63 432.83 548.38 427.83 549 424C549.62 420.17 550.67 416.58 552 414C553.33 411.42 555.37 409.83 557 408.5C558.63 407.17 561.8 406 561.8 406C561.8 406 578.5 395 578.5 395Z" fill="#96ff00" stroke="#000" stroke-opacity="0.75" stroke-width="0.55"/>
<path d="M537 400C537.58 397.92 539.17 395.67 541 394.5C542.83 393.33 545.75 392.92 548 393C550.25 393.08 552.92 393.83 554.5 395C556.08 396.17 556.92 398.17 557.5 400C558.08 401.83 558.17 404.17 558 406C557.83 407.83 557.83 409.7 556.5 411C555.17 412.3 552.42 413.55 550 413.8C547.58 414.05 544.08 413.63 542 412.5C539.92 411.37 538.33 409.08 537.5 407C536.67 404.92 536.42 402.08 537 400Z" fill="#d2ff00" stroke="#000" stroke-opacity="0.75" stroke-width="0.55"/>
<ellipse cx="547.4" cy="404.5" rx="6.9" ry="6.6" fill="#fff000" stroke="#000" stroke-opacity="0.6" stroke-width="0.45"/>
<ellipse cx="547.4" cy="404.5" rx="5.6" ry="5.3" fill="#ffb400" stroke="#000" stroke-opacity="0.6" stroke-width="0.45"/>
<path d="M578.5 395C578.5 395 561.6 404 561.6 404C561.6 404 559.02 403.42 557.5 402.5C555.98 401.58 553.83 400.33 552.5 398.5C551.17 396.67 550.12 393.95 549.5 391.5C548.88 389.05 548.15 386.1 548.8 383.8C549.45 381.5 551.43 379.58 553.4 377.7C555.37 375.82 557.68 373.8 560.6 372.5C563.52 371.2 567.47 370.33 570.9 369.9C574.33 369.47 578.12 369.47 581.2 369.9C584.28 370.33 587.17 371.2 589.4 372.5C591.63 373.8 593.57 375.98 594.6 377.7C595.63 379.42 595.52 381.75 595.6 382.8C595.68 383.85 595.1 384 595.1 384C595.1 384 578.5 395 578.5 395Z" fill="#5aff00" stroke="#000" stroke-opacity="0.75" stroke-width="0.55"/>
<path d="M578.5 395C578.5 395 561.6 401 561.6 401C561.6 401 559.13 400.5 558 399.5C556.87 398.5 555.6 396.75 554.8 395C554 393.25 553.4 390.58 553.2 389C553 387.42 552.88 387.05 553.6 385.5C554.32 383.95 555.82 381.35 557.5 379.7C559.18 378.05 561.12 376.72 563.7 375.6C566.28 374.48 569.73 373.35 573 373C576.27 372.65 580.38 372.9 583.3 373.5C586.22 374.1 588.78 375.22 590.5 376.6C592.22 377.98 592.92 380.57 593.6 381.8C594.28 383.03 594.6 384 594.6 384C594.6 384 578.5 395 578.5 395Z" fill="#1eff00" stroke="#000" stroke-opacity="0.75" stroke-width="0.55"/>
<path d="M578.5 395C578.5 395 561.6 392 561.6 392C561.6 392 559.1 390.25 558.5 389C557.9 387.75 557.58 386 558 384.5C558.42 383 559.67 381.25 561 380C562.33 378.75 563.83 377.83 566 377C568.17 376.17 571.17 375.25 574 375C576.83 374.75 580.42 374.92 583 375.5C585.58 376.08 588 377.08 589.5 378.5C591 379.92 592 384 592 384C592 384 578.5 395 578.5 395Z" fill="#00ff1e" stroke="#000" stroke-opacity="0.75" stroke-width="0.55"/>
<path d="M571.5 384C571.5 384 569.67 380.7 569.5 379C569.33 377.3 569.42 374.8 570.5 373.8C571.58 372.8 573.75 372.8 576 373C578.25 373.2 581.87 374.17 584 375C586.13 375.83 587.8 376.5 588.8 378C589.8 379.5 590 384 590 384C590 384 571.5 384 571.5 384Z" fill="#00ff5a" stroke="#000" stroke-opacity="0.75" stroke-width="0.55"/>
<path d="M573 384C573 384 571.58 380.23 571.4 378.7C571.22 377.17 571.13 375.53 571.9 374.8C572.67 374.07 574.1 374.05 576 374.3C577.9 374.55 581.4 375.53 583.3 376.3C585.2 377.07 586.55 377.62 587.4 378.9C588.25 380.18 588.4 384 588.4 384C588.4 384 573 384 573 384Z" fill="#00ff96" stroke="#000" stroke-opacity="0.75" stroke-width="0.55"/>
<ellipse cx="558.5" cy="403.4" rx="3.3" ry="3.3" fill="#1eff00" stroke="#000" stroke-opacity="0.6" stroke-width="0.45"/>
<ellipse cx="558.6" cy="403.4" rx="2.2" ry="2.2" fill="#00ff1e" stroke="#000" stroke-opacity="0.6" stroke-width="0.45"/>
<path d="M520 393C523.83 392.92 528.5 392.83 532 394C535.5 395.17 538.75 397.17 541 400C543.25 402.83 544.58 407.17 545.5 411C546.42 414.83 546.38 418.67 546.5 423C546.62 427.33 546.45 432.58 546.2 437C545.95 441.42 546.03 445.83 545 449.5C543.97 453.17 542.33 456.58 540 459C537.67 461.42 534.33 463 531 464C527.67 465 523.83 465.17 520 465C516.17 464.83 511.58 464.5 508 463C504.42 461.5 501.08 458.83 498.5 456C495.92 453.17 493.75 449.17 492.5 446C491.25 442.83 491.17 440.67 491 437C490.83 433.33 491 428.33 491.5 424C492 419.67 492.58 415 494 411C495.42 407 497.5 402.75 500 400C502.5 397.25 505.67 395.67 509 394.5C512.33 393.33 516.17 393.08 520 393Z" fill="#5aff00" stroke="#000" stroke-opacity="0.75" stroke-width="0.55"/>
<path d="M544 437C543.95 438.02 543.71 439.03 543.57 440.04C543.42 441.05 543.28 442.04 543.13 443.06C542.99 444.09 542.95 445.17 542.69 446.19C542.43 447.21 542.01 448.2 541.57 449.16C541.12 450.12 540.53 451.01 539.99 451.96C539.46 452.91 539.06 454.04 538.36 454.86C537.66 455.68 536.66 456.27 535.77 456.9C534.87 457.52 533.92 458.05 532.99 458.63C532.06 459.21 531.2 460 530.19 460.38C529.17 460.77 528 460.79 526.92 460.96C525.84 461.14 524.79 461.28 523.72 461.44C522.65 461.6 521.57 461.91 520.5 461.93C519.43 461.94 518.34 461.67 517.27 461.5C516.21 461.34 515.16 461.12 514.09 460.93C513.02 460.73 511.89 460.65 510.83 460.33C509.78 460.02 508.72 459.6 507.77 459.05C506.82 458.49 506.02 457.68 505.15 457.01C504.28 456.33 503.41 455.67 502.53 454.97C501.66 454.27 500.61 453.66 499.89 452.81C499.18 451.96 498.79 450.84 498.23 449.86C497.68 448.87 497.07 447.93 496.57 446.91C496.08 445.89 495.59 444.85 495.27 443.76C494.94 442.68 494.85 441.53 494.64 440.4C494.43 439.28 494.08 438.15 494 437C493.92 435.85 494.1 434.7 494.16 433.53C494.21 432.36 494.26 431.2 494.32 429.98C494.37 428.77 494.33 427.48 494.49 426.23C494.65 424.97 495.02 423.76 495.31 422.45C495.6 421.15 495.85 419.77 496.23 418.38C496.61 416.99 496.96 415.43 497.6 414.1C498.24 412.77 499.16 411.6 500.08 410.38C500.99 409.17 501.93 407.83 503.08 406.83C504.23 405.83 505.63 405.12 506.99 404.38C508.35 403.64 509.74 402.79 511.22 402.38C512.7 401.97 514.33 402.05 515.88 401.91C517.43 401.77 518.96 401.53 520.5 401.55C522.04 401.57 523.56 401.86 525.11 402.01C526.65 402.16 528.28 402.04 529.75 402.48C531.22 402.91 532.58 403.84 533.92 404.59C535.27 405.35 536.74 405.92 537.81 407.01C538.89 408.1 539.66 409.71 540.35 411.13C541.04 412.55 541.56 414.07 541.96 415.54C542.36 417 542.51 418.55 542.76 419.92C543.01 421.29 543.31 422.5 543.45 423.75C543.6 425 543.58 426.25 543.63 427.42C543.68 428.59 543.72 429.68 543.76 430.77C543.8 431.85 543.84 432.88 543.88 433.92C543.92 434.96 544.05 435.98 544 437Z" fill="#1eff00" stroke="#000" stroke-opacity="0.6" stroke-width="0.45"/>
<path d="M543.02 437C542.96 437.98 542.71 438.94 542.56 439.9C542.4 440.87 542.25 441.81 542.08 442.78C541.91 443.75 541.82 444.76 541.54 445.71C541.26 446.67 540.85 447.6 540.4 448.49C539.96 449.39 539.38 450.21 538.86 451.09C538.33 451.96 537.92 452.99 537.25 453.75C536.57 454.51 535.65 455.06 534.8 455.64C533.96 456.22 533.06 456.71 532.19 457.24C531.31 457.77 530.49 458.48 529.55 458.84C528.6 459.2 527.51 459.23 526.5 459.4C525.5 459.57 524.51 459.72 523.51 459.87C522.51 460.02 521.51 460.29 520.5 460.31C519.49 460.32 518.48 460.09 517.48 459.95C516.48 459.81 515.49 459.63 514.48 459.45C513.47 459.28 512.42 459.19 511.43 458.9C510.43 458.62 509.43 458.24 508.53 457.74C507.62 457.24 506.84 456.51 506.01 455.89C505.17 455.27 504.34 454.65 503.5 454C502.65 453.36 501.65 452.79 500.95 452C500.26 451.2 499.86 450.16 499.32 449.23C498.77 448.31 498.17 447.41 497.69 446.45C497.21 445.49 496.74 444.48 496.43 443.45C496.12 442.41 496.02 441.32 495.83 440.25C495.63 439.17 495.33 438.09 495.27 437C495.21 435.91 495.41 434.81 495.48 433.71C495.56 432.6 495.63 431.5 495.72 430.36C495.81 429.22 495.83 428.03 496.03 426.86C496.22 425.7 496.59 424.58 496.9 423.38C497.21 422.17 497.5 420.92 497.89 419.65C498.29 418.39 498.65 416.98 499.28 415.78C499.9 414.57 500.76 413.5 501.62 412.4C502.49 411.31 503.38 410.1 504.45 409.2C505.53 408.3 506.82 407.67 508.07 406.99C509.32 406.32 510.61 405.55 511.97 405.17C513.34 404.8 514.83 404.86 516.25 404.74C517.67 404.61 519.09 404.39 520.5 404.4C521.91 404.41 523.32 404.66 524.74 404.79C526.16 404.92 527.66 404.82 529.02 405.21C530.38 405.59 531.64 406.42 532.89 407.1C534.13 407.77 535.51 408.28 536.52 409.26C537.53 410.24 538.27 411.68 538.95 412.96C539.62 414.24 540.15 415.6 540.57 416.93C540.99 418.25 541.19 419.66 541.47 420.91C541.75 422.16 542.08 423.28 542.26 424.44C542.44 425.6 542.48 426.76 542.56 427.86C542.65 428.96 542.72 430 542.77 431.03C542.83 432.06 542.88 433.05 542.92 434.05C542.96 435.04 543.08 436.02 543.02 437Z" fill="#00ff1e" stroke="#000" stroke-opacity="0.6" stroke-width="0.45"/>
<path d="M542.04 437C541.97 437.93 541.72 438.85 541.55 439.77C541.38 440.69 541.22 441.59 541.03 442.5C540.84 443.41 540.69 444.35 540.39 445.24C540.09 446.13 539.69 446.99 539.24 447.82C538.8 448.65 538.24 449.41 537.72 450.21C537.2 451.02 536.78 451.94 536.13 452.63C535.49 453.33 534.63 453.85 533.84 454.38C533.05 454.92 532.2 455.36 531.38 455.85C530.56 456.33 529.79 456.96 528.91 457.29C528.02 457.63 527.02 457.68 526.08 457.84C525.15 458.01 524.23 458.15 523.3 458.29C522.37 458.43 521.44 458.67 520.5 458.69C519.56 458.71 518.62 458.52 517.68 458.4C516.75 458.28 515.82 458.14 514.88 457.98C513.93 457.83 512.95 457.73 512.02 457.47C511.09 457.22 510.14 456.88 509.28 456.43C508.42 455.98 507.66 455.34 506.86 454.77C506.06 454.21 505.27 453.64 504.46 453.04C503.65 452.44 502.69 451.92 502.02 451.18C501.34 450.44 500.94 449.47 500.4 448.6C499.86 447.74 499.26 446.9 498.8 445.99C498.33 445.08 497.9 444.12 497.6 443.14C497.3 442.15 497.19 441.11 497.01 440.09C496.84 439.07 496.57 438.04 496.54 437C496.5 435.96 496.71 434.92 496.81 433.88C496.91 432.84 497 431.8 497.13 430.74C497.25 429.67 497.34 428.57 497.57 427.5C497.8 426.43 498.17 425.39 498.5 424.3C498.83 423.2 499.14 422.07 499.55 420.93C499.96 419.78 500.35 418.54 500.95 417.45C501.55 416.37 502.36 415.4 503.17 414.42C503.98 413.44 504.83 412.38 505.82 411.58C506.82 410.78 508 410.21 509.15 409.61C510.3 409 511.48 408.31 512.72 407.97C513.97 407.63 515.33 407.68 516.62 407.56C517.92 407.44 519.21 407.25 520.5 407.25C521.79 407.25 523.08 407.46 524.37 407.57C525.67 407.68 527.04 407.6 528.29 407.94C529.53 408.28 530.69 409.01 531.85 409.61C533 410.2 534.27 410.64 535.22 411.51C536.17 412.37 536.89 413.65 537.55 414.78C538.21 415.92 538.74 417.13 539.18 418.32C539.62 419.5 539.87 420.76 540.19 421.89C540.5 423.03 540.84 424.06 541.06 425.13C541.28 426.2 541.37 427.28 541.49 428.3C541.62 429.33 541.71 430.32 541.79 431.3C541.87 432.27 541.92 433.22 541.96 434.18C542 435.13 542.11 436.07 542.04 437Z" fill="#00ff5a" stroke="#000" stroke-opacity="0.6" stroke-width="0.45"/>
<path d="M541.06 437C540.98 437.89 540.72 438.77 540.54 439.64C540.36 440.51 540.19 441.36 539.98 442.22C539.76 443.07 539.56 443.94 539.24 444.76C538.93 445.59 538.52 446.39 538.08 447.15C537.64 447.91 537.1 448.61 536.59 449.34C536.08 450.07 535.64 450.89 535.02 451.52C534.4 452.15 533.61 452.64 532.87 453.13C532.13 453.62 531.35 454.02 530.58 454.46C529.81 454.89 529.08 455.44 528.27 455.75C527.45 456.05 526.53 456.12 525.67 456.28C524.81 456.44 523.96 456.58 523.1 456.72C522.23 456.85 521.37 457.05 520.5 457.07C519.63 457.09 518.76 456.94 517.89 456.85C517.02 456.76 516.15 456.65 515.27 456.51C514.39 456.38 513.48 456.28 512.61 456.04C511.74 455.81 510.85 455.52 510.04 455.12C509.22 454.73 508.49 454.17 507.72 453.66C506.95 453.15 506.2 452.62 505.43 452.07C504.65 451.53 503.73 451.05 503.08 450.37C502.42 449.69 502.01 448.79 501.49 447.98C500.96 447.17 500.36 446.39 499.91 445.53C499.46 444.67 499.05 443.76 498.77 442.82C498.48 441.89 498.36 440.91 498.2 439.94C498.04 438.97 497.81 437.98 497.8 437C497.79 436.02 498.01 435.04 498.13 434.06C498.25 433.07 498.37 432.1 498.53 431.11C498.69 430.13 498.84 429.12 499.11 428.14C499.37 427.16 499.74 426.21 500.09 425.22C500.44 424.23 500.79 423.21 501.21 422.2C501.63 421.18 502.04 420.09 502.63 419.13C503.21 418.17 503.96 417.3 504.72 416.43C505.48 415.57 506.28 414.66 507.2 413.96C508.11 413.25 509.19 412.75 510.23 412.22C511.28 411.68 512.34 411.07 513.47 410.76C514.6 410.46 515.82 410.49 517 410.38C518.17 410.27 519.33 410.11 520.5 410.1C521.67 410.1 522.83 410.26 524.01 410.35C525.18 410.44 526.42 410.37 527.56 410.67C528.69 410.96 529.75 411.6 530.81 412.11C531.87 412.63 533.03 413.01 533.92 413.76C534.81 414.51 535.5 415.62 536.15 416.61C536.79 417.6 537.33 418.66 537.79 419.71C538.25 420.75 538.56 421.86 538.9 422.88C539.25 423.9 539.61 424.84 539.87 425.82C540.12 426.8 540.27 427.79 540.43 428.75C540.58 429.7 540.71 430.63 540.8 431.56C540.9 432.49 540.95 433.4 540.99 434.3C541.04 435.21 541.14 436.11 541.06 437Z" fill="#00ff96" stroke="#000" stroke-opacity="0.6" stroke-width="0.45"/>
<path d="M540.08 437C540 437.85 539.72 438.68 539.53 439.51C539.34 440.33 539.17 441.14 538.93 441.94C538.69 442.73 538.43 443.53 538.1 444.29C537.76 445.05 537.36 445.78 536.92 446.48C536.48 447.18 535.95 447.82 535.45 448.47C534.95 449.13 534.5 449.84 533.91 450.41C533.32 450.98 532.6 451.43 531.91 451.87C531.22 452.31 530.49 452.68 529.78 453.07C529.06 453.45 528.38 453.93 527.63 454.2C526.87 454.48 526.04 454.57 525.25 454.72C524.46 454.88 523.68 455.02 522.89 455.14C522.1 455.26 521.3 455.43 520.5 455.45C519.7 455.48 518.9 455.37 518.09 455.3C517.29 455.23 516.48 455.16 515.67 455.04C514.85 454.93 514.02 454.82 513.2 454.61C512.39 454.41 511.56 454.16 510.79 453.82C510.02 453.47 509.31 452.99 508.57 452.54C507.84 452.09 507.13 451.61 506.39 451.11C505.65 450.61 504.77 450.18 504.14 449.56C503.5 448.93 503.09 448.1 502.57 447.35C502.05 446.6 501.46 445.88 501.02 445.07C500.58 444.26 500.21 443.39 499.94 442.51C499.66 441.63 499.53 440.7 499.39 439.78C499.24 438.86 499.06 437.92 499.07 437C499.08 436.08 499.31 435.15 499.46 434.23C499.6 433.31 499.74 432.4 499.93 431.49C500.13 430.58 500.35 429.67 500.64 428.78C500.94 427.88 501.32 427.02 501.69 426.14C502.06 425.26 502.43 424.36 502.87 423.47C503.3 422.58 503.73 421.64 504.3 420.8C504.87 419.96 505.56 419.2 506.27 418.45C506.98 417.71 507.73 416.94 508.57 416.33C509.41 415.73 510.37 415.29 511.32 414.83C512.26 414.37 513.21 413.83 514.22 413.56C515.23 413.29 516.32 413.31 517.37 413.2C518.41 413.1 519.45 412.97 520.5 412.95C521.55 412.94 522.59 413.06 523.64 413.13C524.7 413.2 525.8 413.15 526.82 413.4C527.85 413.65 528.8 414.18 529.77 414.62C530.74 415.05 531.79 415.37 532.62 416C533.45 416.64 534.12 417.59 534.75 418.43C535.38 419.28 535.92 420.19 536.4 421.1C536.88 422 537.24 422.96 537.62 423.86C538 424.77 538.38 425.62 538.67 426.51C538.96 427.4 539.17 428.3 539.36 429.19C539.55 430.07 539.71 430.95 539.82 431.82C539.93 432.7 539.99 433.57 540.03 434.43C540.08 435.29 540.16 436.15 540.08 437Z" fill="#00ffd2" stroke="#000" stroke-opacity="0.6" stroke-width="0.45"/>
<path d="M539.1 437C539.01 437.8 538.72 438.6 538.52 439.37C538.31 440.15 538.14 440.92 537.88 441.66C537.61 442.4 537.3 443.12 536.95 443.81C536.59 444.51 536.2 445.18 535.76 445.81C535.32 446.44 534.81 447.02 534.31 447.6C533.82 448.18 533.36 448.79 532.8 449.3C532.23 449.8 531.58 450.22 530.95 450.61C530.31 451.01 529.63 451.33 528.97 451.67C528.31 452.02 527.68 452.41 526.99 452.66C526.3 452.91 525.55 453.01 524.83 453.16C524.11 453.32 523.4 453.45 522.68 453.56C521.96 453.68 521.23 453.8 520.5 453.83C519.77 453.86 519.04 453.79 518.3 453.74C517.56 453.7 516.81 453.66 516.06 453.57C515.31 453.48 514.55 453.36 513.8 453.18C513.04 453.01 512.27 452.8 511.55 452.51C510.82 452.22 510.13 451.82 509.43 451.43C508.73 451.03 508.06 450.59 507.35 450.15C506.65 449.7 505.82 449.31 505.2 448.74C504.58 448.17 504.16 447.41 503.65 446.73C503.14 446.04 502.56 445.36 502.13 444.61C501.71 443.85 501.36 443.03 501.1 442.2C500.84 441.37 500.7 440.49 500.58 439.62C500.45 438.76 500.3 437.87 500.34 437C500.37 436.13 500.62 435.26 500.78 434.4C500.95 433.55 501.1 432.7 501.34 431.87C501.57 431.03 501.86 430.21 502.18 429.41C502.51 428.61 502.89 427.84 503.28 427.06C503.68 426.28 504.08 425.51 504.53 424.74C504.98 423.98 505.43 423.19 505.98 422.48C506.52 421.76 507.15 421.09 507.81 420.47C508.47 419.84 509.18 419.21 509.94 418.71C510.7 418.2 511.56 417.83 512.4 417.44C513.24 417.05 514.08 416.59 514.97 416.35C515.86 416.12 516.82 416.12 517.74 416.03C518.66 415.94 519.58 415.82 520.5 415.8C521.42 415.78 522.34 415.85 523.28 415.91C524.21 415.96 525.18 415.92 526.09 416.13C527 416.33 527.86 416.77 528.73 417.13C529.6 417.48 530.55 417.73 531.32 418.25C532.09 418.78 532.73 419.55 533.35 420.26C533.96 420.97 534.51 421.72 535.01 422.49C535.51 423.25 535.92 424.07 536.33 424.85C536.74 425.64 537.15 426.4 537.48 427.2C537.8 428 538.06 428.82 538.29 429.63C538.52 430.45 538.7 431.27 538.83 432.09C538.96 432.91 539.03 433.74 539.07 434.56C539.11 435.37 539.19 436.2 539.1 437Z" fill="#00f0ff" stroke="#000" stroke-opacity="0.6" stroke-width="0.45"/>
<path d="M538.12 437C538.02 437.76 537.72 438.51 537.51 439.24C537.29 439.97 537.11 440.69 536.82 441.37C536.54 442.06 536.17 442.71 535.8 443.34C535.43 443.96 535.03 444.57 534.6 445.14C534.16 445.7 533.66 446.22 533.18 446.73C532.69 447.24 532.22 447.75 531.68 448.18C531.15 448.62 530.57 449.01 529.98 449.36C529.4 449.71 528.78 449.99 528.17 450.28C527.56 450.58 526.97 450.89 526.35 451.11C525.72 451.33 525.06 451.46 524.41 451.6C523.77 451.75 523.13 451.89 522.47 451.99C521.82 452.09 521.16 452.18 520.5 452.22C519.84 452.25 519.17 452.21 518.5 452.19C517.83 452.17 517.14 452.17 516.45 452.1C515.77 452.03 515.08 451.9 514.39 451.76C513.7 451.61 512.98 451.44 512.3 451.2C511.62 450.96 510.95 450.65 510.29 450.31C509.62 449.97 508.99 449.58 508.32 449.18C507.65 448.78 506.86 448.44 506.26 447.93C505.66 447.41 505.24 446.73 504.74 446.1C504.24 445.47 503.66 444.85 503.24 444.15C502.83 443.44 502.52 442.66 502.27 441.88C502.02 441.1 501.87 440.28 501.76 439.47C501.65 438.65 501.55 437.81 501.61 437C501.66 436.19 501.92 435.37 502.11 434.58C502.3 433.79 502.47 433 502.74 432.24C503.01 431.49 503.36 430.76 503.72 430.05C504.08 429.34 504.47 428.65 504.88 427.98C505.29 427.31 505.73 426.66 506.19 426.02C506.65 425.38 507.12 424.74 507.65 424.15C508.18 423.56 508.75 422.99 509.36 422.48C509.97 421.97 510.63 421.49 511.31 421.09C512 420.68 512.75 420.37 513.48 420.05C514.21 419.73 514.95 419.35 515.72 419.15C516.49 418.95 517.31 418.93 518.11 418.85C518.91 418.77 519.7 418.68 520.5 418.66C521.3 418.63 522.1 418.65 522.91 418.69C523.72 418.72 524.56 418.7 525.36 418.86C526.16 419.02 526.92 419.36 527.69 419.63C528.47 419.91 529.32 420.09 530.03 420.5C530.73 420.91 531.34 421.52 531.94 422.09C532.54 422.65 533.1 423.25 533.62 423.88C534.14 424.5 534.61 425.17 535.05 425.84C535.49 426.51 535.92 427.18 536.28 427.89C536.64 428.6 536.96 429.33 537.22 430.07C537.48 430.82 537.7 431.58 537.85 432.35C538 433.12 538.06 433.91 538.11 434.68C538.15 435.46 538.22 436.24 538.12 437Z" fill="#00b4ff" stroke="#000" stroke-opacity="0.6" stroke-width="0.45"/>
<path d="M537.22 437C537.11 437.72 536.81 438.43 536.58 439.12C536.36 439.8 536.17 440.48 535.86 441.12C535.55 441.75 535.14 442.33 534.75 442.9C534.36 443.47 533.97 444.02 533.53 444.52C533.1 445.03 532.62 445.49 532.14 445.93C531.66 446.37 531.17 446.78 530.66 447.16C530.16 447.54 529.64 447.9 529.1 448.2C528.56 448.51 527.99 448.76 527.43 449.01C526.88 449.26 526.33 449.5 525.76 449.7C525.19 449.89 524.61 450.03 524.03 450.17C523.45 450.32 522.87 450.45 522.28 450.54C521.69 450.64 521.1 450.7 520.5 450.73C519.9 450.77 519.3 450.77 518.69 450.77C518.07 450.77 517.44 450.81 516.82 450.75C516.19 450.7 515.57 450.57 514.93 450.44C514.29 450.32 513.63 450.2 512.99 450.01C512.35 449.81 511.7 449.57 511.07 449.29C510.44 449 509.84 448.65 509.2 448.3C508.56 447.94 507.81 447.64 507.23 447.18C506.65 446.72 506.23 446.1 505.73 445.53C505.24 444.95 504.66 444.38 504.26 443.73C503.86 443.07 503.58 442.33 503.34 441.6C503.1 440.86 502.95 440.09 502.85 439.32C502.76 438.56 502.69 437.76 502.77 437C502.85 436.24 503.11 435.47 503.32 434.74C503.53 434 503.72 433.27 504.03 432.59C504.33 431.9 504.75 431.26 505.13 430.63C505.52 430.01 505.91 429.4 506.34 428.83C506.77 428.25 507.23 427.71 507.71 427.19C508.18 426.66 508.68 426.16 509.19 425.69C509.7 425.21 510.22 424.74 510.78 424.33C511.34 423.93 511.95 423.58 512.57 423.26C513.18 422.95 513.83 422.7 514.47 422.45C515.11 422.19 515.74 421.88 516.4 421.71C517.07 421.54 517.77 421.51 518.45 421.44C519.13 421.37 519.81 421.3 520.5 421.27C521.19 421.23 521.88 421.22 522.58 421.24C523.27 421.25 524 421.25 524.69 421.36C525.38 421.48 526.05 421.73 526.74 421.93C527.43 422.13 528.18 422.26 528.84 422.56C529.49 422.87 530.07 423.33 530.66 423.76C531.25 424.19 531.81 424.66 532.35 425.15C532.88 425.65 533.4 426.18 533.87 426.74C534.34 427.3 534.79 427.9 535.18 428.52C535.58 429.15 535.95 429.8 536.24 430.48C536.54 431.16 536.78 431.87 536.94 432.59C537.11 433.31 537.18 434.06 537.23 434.8C537.27 435.53 537.33 436.28 537.22 437Z" fill="#0078ff" stroke="#000" stroke-opacity="0.6" stroke-width="0.45"/>
<path d="M536.49 437C536.37 437.69 536.06 438.37 535.83 439.02C535.59 439.67 535.39 440.32 535.07 440.9C534.75 441.49 534.29 442.03 533.89 442.54C533.48 443.06 533.09 443.56 532.66 444.02C532.23 444.48 531.76 444.89 531.29 445.28C530.81 445.66 530.31 446 529.83 446.33C529.34 446.66 528.87 446.99 528.37 447.26C527.87 447.53 527.35 447.75 526.83 447.96C526.31 448.18 525.8 448.36 525.28 448.54C524.76 448.71 524.24 448.87 523.72 449C523.19 449.14 522.66 449.28 522.13 449.36C521.59 449.45 521.05 449.48 520.5 449.52C519.95 449.56 519.41 449.58 518.84 449.61C518.28 449.63 517.69 449.69 517.11 449.65C516.53 449.61 515.97 449.48 515.38 449.37C514.78 449.27 514.17 449.18 513.56 449.03C512.95 448.87 512.32 448.69 511.71 448.45C511.11 448.21 510.54 447.89 509.93 447.57C509.31 447.26 508.59 446.99 508.03 446.57C507.46 446.15 507.03 445.59 506.55 445.06C506.06 444.52 505.49 444 505.1 443.38C504.71 442.76 504.44 442.06 504.22 441.36C503.99 440.67 503.82 439.93 503.74 439.21C503.66 438.48 503.62 437.72 503.72 437C503.82 436.28 504.09 435.56 504.31 434.87C504.54 434.18 504.75 433.49 505.08 432.87C505.41 432.24 505.88 431.67 506.29 431.11C506.7 430.55 507.09 430.01 507.54 429.52C507.98 429.02 508.47 428.57 508.95 428.14C509.44 427.71 509.95 427.33 510.44 426.94C510.94 426.56 511.41 426.16 511.94 425.84C512.47 425.53 513.04 425.29 513.6 425.05C514.16 424.81 514.72 424.61 515.28 424.4C515.84 424.2 516.39 423.95 516.97 423.81C517.54 423.67 518.14 423.62 518.73 423.56C519.32 423.49 519.9 423.45 520.5 423.41C521.1 423.37 521.69 423.32 522.3 423.32C522.91 423.32 523.53 423.33 524.14 423.41C524.75 423.49 525.34 423.67 525.96 423.81C526.58 423.95 527.25 424.03 527.86 424.25C528.47 424.47 529.04 424.8 529.61 425.13C530.18 425.45 530.76 425.8 531.31 426.19C531.86 426.59 532.41 427.01 532.91 427.48C533.4 427.95 533.86 428.48 534.29 429.04C534.71 429.6 535.12 430.19 535.44 430.81C535.76 431.44 536.03 432.11 536.21 432.79C536.38 433.47 536.46 434.19 536.5 434.89C536.55 435.59 536.6 436.31 536.49 437Z" fill="#003cff" stroke="#000" stroke-opacity="0.6" stroke-width="0.45"/>
<path d="M535.83 437C535.71 437.66 535.4 438.31 535.15 438.93C534.91 439.55 534.71 440.17 534.37 440.72C534.03 441.27 533.54 441.75 533.12 442.23C532.71 442.7 532.32 443.16 531.88 443.57C531.45 443.98 530.99 444.36 530.53 444.69C530.06 445.03 529.55 445.3 529.09 445.59C528.62 445.87 528.2 446.18 527.73 446.42C527.27 446.67 526.77 446.86 526.29 447.04C525.81 447.22 525.33 447.35 524.85 447.51C524.38 447.66 523.92 447.83 523.44 447.97C522.96 448.1 522.48 448.23 521.99 448.31C521.5 448.39 521 448.4 520.5 448.44C520 448.48 519.5 448.53 518.98 448.57C518.46 448.61 517.91 448.69 517.37 448.67C516.84 448.64 516.32 448.5 515.77 448.42C515.22 448.33 514.64 448.27 514.06 448.15C513.48 448.04 512.86 447.91 512.28 447.71C511.7 447.5 511.16 447.21 510.57 446.93C509.98 446.65 509.29 446.41 508.73 446.03C508.18 445.65 507.75 445.13 507.27 444.64C506.79 444.15 506.22 443.65 505.84 443.07C505.46 442.49 505.21 441.82 504.99 441.16C504.78 440.49 504.6 439.79 504.53 439.1C504.46 438.41 504.45 437.69 504.57 437C504.68 436.31 504.96 435.63 505.2 434.99C505.44 434.34 505.66 433.69 506.01 433.12C506.37 432.54 506.88 432.03 507.31 431.54C507.74 431.04 508.14 430.56 508.6 430.13C509.06 429.71 509.57 429.33 510.06 428.99C510.55 428.64 511.08 428.36 511.56 428.06C512.05 427.76 512.48 427.43 512.97 427.19C513.46 426.95 514.01 426.8 514.51 426.63C515.02 426.46 515.51 426.31 516 426.15C516.5 425.99 516.97 425.79 517.46 425.67C517.96 425.55 518.47 425.5 518.98 425.44C519.48 425.38 519.99 425.35 520.5 425.31C521.01 425.26 521.53 425.19 522.06 425.17C522.58 425.16 523.12 425.18 523.65 425.23C524.19 425.28 524.71 425.39 525.27 425.48C525.83 425.57 526.43 425.6 527 425.75C527.56 425.89 528.11 426.12 528.68 426.35C529.24 426.57 529.82 426.82 530.38 427.12C530.94 427.42 531.53 427.74 532.05 428.14C532.57 428.53 533.04 429.01 533.49 429.5C533.94 430 534.39 430.53 534.73 431.11C535.07 431.68 535.36 432.32 535.55 432.97C535.74 433.61 535.82 434.31 535.86 434.98C535.91 435.65 535.95 436.34 535.83 437Z" fill="#0000ff" stroke="#000" stroke-opacity="0.6" stroke-width="0.45"/>
<path d="M575 406.2C575 406.2 576.67 411.2 577.9 413.4C579.13 415.6 580.4 417.72 582.4 419.4C584.4 421.08 587.65 422.97 589.9 423.5C592.15 424.03 594.15 423.52 595.9 422.6C597.65 421.68 599.5 419.77 600.4 418C601.3 416.23 601.53 413.7 601.3 412C601.07 410.3 600.02 408.77 599 407.8C597.98 406.83 595.2 406.2 595.2 406.2C595.2 406.2 575 406.2 575 406.2Z" fill="#ff0000" stroke="#000" stroke-opacity="0.75" stroke-width="0.55"/>
<rect x="561.8" y="383.9" width="33.4" height="22.3" fill="#fff"/>
</g>
<path d="M387.7 279.2V513.2H645.5" fill="none" stroke="#000" stroke-width="1.3"/>
<path d="M401.05 513.2V509.7M387.7 507.94H391.2M417.21 513.2V509.7M387.7 491.82H391.2M433.38 513.2V509.7M387.7 475.71H391.2M449.54 513.2V507.2M387.7 459.6H393.7M465.71 513.2V509.7M387.7 443.49H391.2M481.87 513.2V509.7M387.7 427.38H391.2M498.04 513.2V509.7M387.7 411.26H391.2M514.2 513.2V507.2M387.7 395.15H393.7M530.37 513.2V509.7M387.7 379.04H391.2M546.53 513.2V509.7M387.7 362.92H391.2M562.7 513.2V509.7M387.7 346.81H391.2M578.86 513.2V507.2M387.7 330.7H393.7M595.03 513.2V509.7M387.7 314.59H391.2M611.19 513.2V509.7M387.7 298.47H391.2M627.36 513.2V509.7M387.7 282.36H391.2M643.52 513.2V507.2" fill="none" stroke="#000" stroke-width="1"/>
<g font-family='"Liberation Serif", serif' font-weight="bold" fill="#000" stroke="#000" stroke-width="0.2">
<text x="449.54" y="522.7" text-anchor="middle" font-size="9">-0.2</text>
<text x="384.7" y="462.6" text-anchor="end" font-size="9">-0.2</text>
<text x="514.2" y="522.7" text-anchor="middle" font-size="9">0</text>
<text x="384.7" y="398.15" text-anchor="end" font-size="9">0</text>
<text x="578.86" y="522.7" text-anchor="middle" font-size="9">0.2</text>
<text x="384.7" y="333.7" text-anchor="end" font-size="9">0.2</text>
<text x="643.52" y="522.7" text-anchor="middle" font-size="9">0.4</text>
<text x="516.4" y="533.3" text-anchor="middle" font-size="11">X</text>
<text transform="translate(374 396.4) rotate(-90)" text-anchor="middle" font-size="11">Y</text>
<text x="340.9" y="328.4" font-size="15.3" font-weight="normal" stroke="#000" stroke-width="0.55">(d)</text>
</g>
<rect x="646.9" y="317.9" width="11.2" height="4.56" fill="#ff0000"/>
<rect x="646.9" y="322.46" width="11.2" height="9.12" fill="#ff3c00"/>
<rect x="646.9" y="331.59" width="11.2" height="9.12" fill="#ff7800"/>
<rect x="646.9" y="340.71" width="11.2" height="9.12" fill="#ffb400"/>
<rect x="646.9" y="349.83" width="11.2" height="9.12" fill="#fff000"/>
<rect x="646.9" y="358.96" width="11.2" height="9.12" fill="#d2ff00"/>
<rect x="646.9" y="368.08" width="11.2" height="9.12" fill="#96ff00"/>
<rect x="646.9" y="377.2" width="11.2" height="9.12" fill="#5aff00"/>
<rect x="646.9" y="386.33" width="11.2" height="9.12" fill="#1eff00"/>
<rect x="646.9" y="395.45" width="11.2" height="9.12" fill="#00ff1e"/>
<rect x="646.9" y="404.57" width="11.2" height="9.12" fill="#00ff5a"/>
<rect x="646.9" y="413.7" width="11.2" height="9.12" fill="#00ff96"/>
<rect x="646.9" y="422.82" width="11.2" height="9.12" fill="#00ffd2"/>
<rect x="646.9" y="431.94" width="11.2" height="9.12" fill="#00f0ff"/>
<rect x="646.9" y="441.07" width="11.2" height="9.12" fill="#00b4ff"/>
<rect x="646.9" y="450.19" width="11.2" height="9.12" fill="#0078ff"/>
<rect x="646.9" y="459.31" width="11.2" height="9.12" fill="#003cff"/>
<rect x="646.9" y="468.44" width="11.2" height="4.56" fill="#0000ff"/>
<path d="M646.9 322.46H658.1M646.9 331.59H658.1M646.9 340.71H658.1M646.9 349.83H658.1M646.9 358.96H658.1M646.9 368.08H658.1M646.9 377.2H658.1M646.9 386.33H658.1M646.9 395.45H658.1M646.9 404.57H658.1M646.9 413.7H658.1M646.9 422.82H658.1M646.9 431.94H658.1M646.9 441.07H658.1M646.9 450.19H658.1M646.9 459.31H658.1M646.9 468.44H658.1" stroke="#000" stroke-opacity="0.7" stroke-width="0.6"/>
<rect x="646.9" y="317.9" width="11.2" height="155.1" fill="none" stroke="#000" stroke-opacity="0.5" stroke-width="0.5"/>
<g font-family='"Liberation Serif", serif' font-weight="bold" fill="#000" stroke="#000" stroke-width="0.25" font-size="7.2">
<text x="679.8" y="326.16" text-anchor="end">1.80</text>
<text x="679.8" y="335.29" text-anchor="end">1.60</text>
<text x="679.8" y="344.41" text-anchor="end">1.40</text>
<text x="679.8" y="353.53" text-anchor="end">1.20</text>
<text x="679.8" y="362.66" text-anchor="end">1.00</text>
<text x="679.8" y="371.78" text-anchor="end">0.80</text>
<text x="679.8" y="380.9" text-anchor="end">0.60</text>
<text x="679.8" y="390.03" text-anchor="end">0.40</text>
<text x="679.8" y="399.15" text-anchor="end">0.20</text>
<text x="679.8" y="408.27" text-anchor="end">0.00</text>
<text x="679.8" y="417.4" text-anchor="end">-0.20</text>
<text x="679.8" y="426.52" text-anchor="end">-0.40</text>
<text x="679.8" y="435.64" text-anchor="end">-0.60</text>
<text x="679.8" y="444.77" text-anchor="end">-0.80</text>
<text x="679.8" y="453.89" text-anchor="end">-1.00</text>
<text x="679.8" y="463.01" text-anchor="end">-1.20</text>
<text x="679.8" y="472.14" text-anchor="end">-1.40</text>
<text x="667" y="313.1" font-size="7.6">Cp</text>
</g>
</svg>
</body></html>
